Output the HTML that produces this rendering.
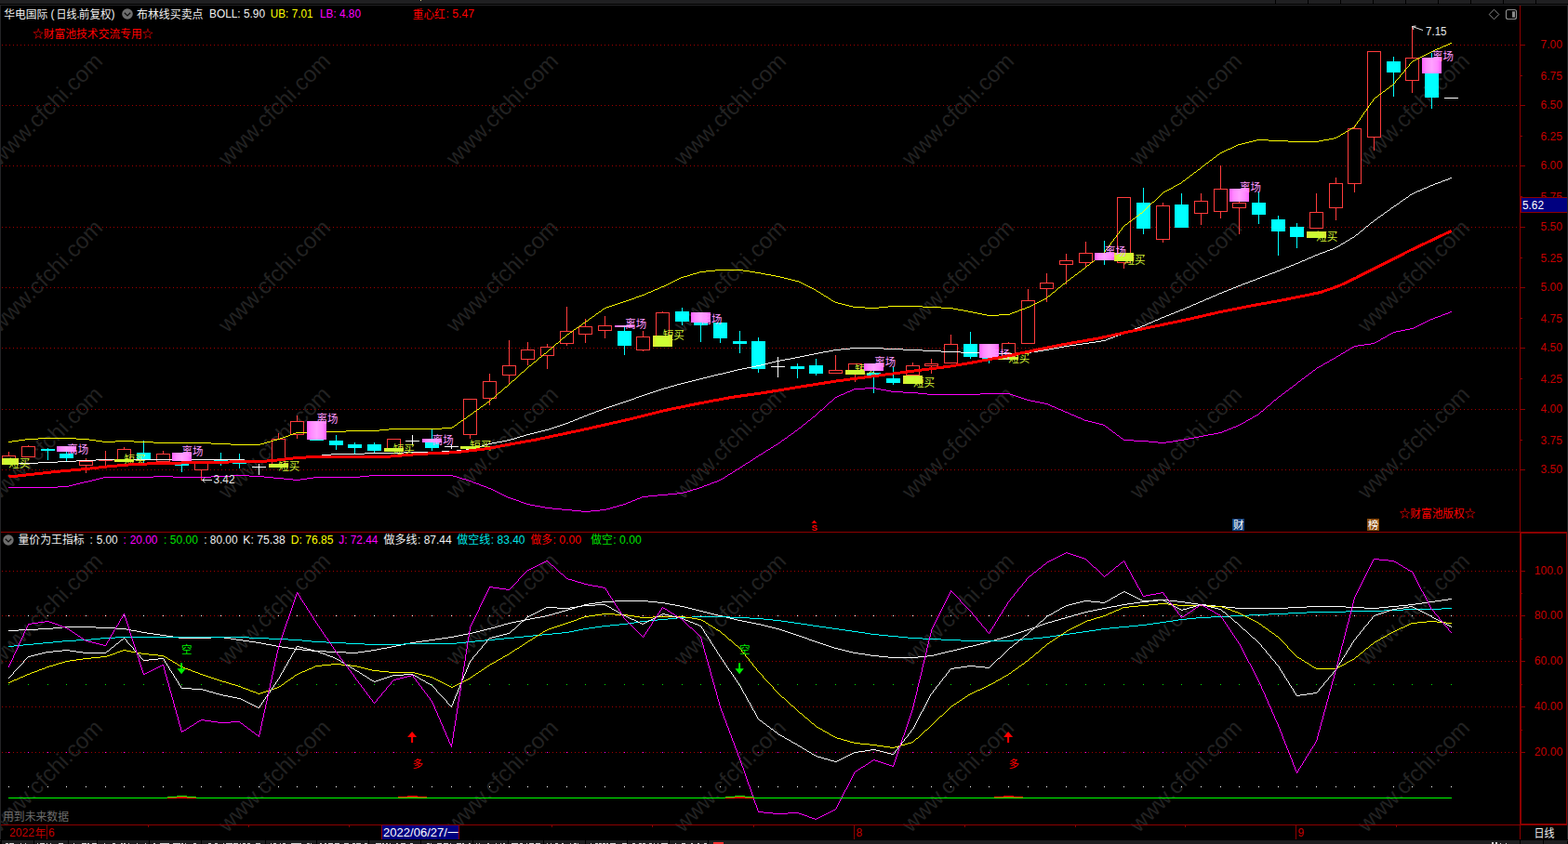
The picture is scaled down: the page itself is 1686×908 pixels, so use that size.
<!DOCTYPE html>
<html lang="zh"><head><meta charset="utf-8"><title>华电国际 日线 BOLL</title>
<style>html,body{margin:0;padding:0;background:#000;overflow:hidden}body{width:1686px;height:908px;font-family:"Liberation Sans","Noto Sans CJK SC",sans-serif}svg text{font-family:"Liberation Sans","Noto Sans CJK SC",sans-serif}</style>
</head><body>
<svg width="1686" height="908" viewBox="0 0 1686 908" font-family="Liberation Sans, Noto Sans CJK SC, sans-serif" font-size="12" style="display:block">
<defs><linearGradient id="gp" x1="0" x2="1" y1="0" y2="0"><stop offset="0" stop-color="#ff60ff"/><stop offset="0.22" stop-color="#ff8aff"/><stop offset="0.5" stop-color="#ffa2ff"/><stop offset="0.78" stop-color="#ff8aff"/><stop offset="1" stop-color="#ff60ff"/></linearGradient><linearGradient id="gy" x1="0" x2="1" y1="0" y2="0"><stop offset="0" stop-color="#e2e432"/><stop offset="0.22" stop-color="#ccff33"/><stop offset="0.78" stop-color="#ccff33"/><stop offset="1" stop-color="#e2e432"/></linearGradient></defs>
<rect x="0" y="0" width="1686" height="908" fill="#000"/>
<g fill="#222222" font-size="24">
<text transform="translate(-245.5 0.1) rotate(-45)">www.cfchi.com</text>
<text transform="translate(-0.5 0.1) rotate(-45)">www.cfchi.com</text>
<text transform="translate(244.5 0.1) rotate(-45)">www.cfchi.com</text>
<text transform="translate(489.5 0.1) rotate(-45)">www.cfchi.com</text>
<text transform="translate(734.5 0.1) rotate(-45)">www.cfchi.com</text>
<text transform="translate(979.5 0.1) rotate(-45)">www.cfchi.com</text>
<text transform="translate(1224.5 0.1) rotate(-45)">www.cfchi.com</text>
<text transform="translate(1469.5 0.1) rotate(-45)">www.cfchi.com</text>
<text transform="translate(-245.5 179.4) rotate(-45)">www.cfchi.com</text>
<text transform="translate(-0.5 179.4) rotate(-45)">www.cfchi.com</text>
<text transform="translate(244.5 179.4) rotate(-45)">www.cfchi.com</text>
<text transform="translate(489.5 179.4) rotate(-45)">www.cfchi.com</text>
<text transform="translate(734.5 179.4) rotate(-45)">www.cfchi.com</text>
<text transform="translate(979.5 179.4) rotate(-45)">www.cfchi.com</text>
<text transform="translate(1224.5 179.4) rotate(-45)">www.cfchi.com</text>
<text transform="translate(1469.5 179.4) rotate(-45)">www.cfchi.com</text>
<text transform="translate(-245.5 358.7) rotate(-45)">www.cfchi.com</text>
<text transform="translate(-0.5 358.7) rotate(-45)">www.cfchi.com</text>
<text transform="translate(244.5 358.7) rotate(-45)">www.cfchi.com</text>
<text transform="translate(489.5 358.7) rotate(-45)">www.cfchi.com</text>
<text transform="translate(734.5 358.7) rotate(-45)">www.cfchi.com</text>
<text transform="translate(979.5 358.7) rotate(-45)">www.cfchi.com</text>
<text transform="translate(1224.5 358.7) rotate(-45)">www.cfchi.com</text>
<text transform="translate(1469.5 358.7) rotate(-45)">www.cfchi.com</text>
<text transform="translate(-245.5 538) rotate(-45)">www.cfchi.com</text>
<text transform="translate(-0.5 538) rotate(-45)">www.cfchi.com</text>
<text transform="translate(244.5 538) rotate(-45)">www.cfchi.com</text>
<text transform="translate(489.5 538) rotate(-45)">www.cfchi.com</text>
<text transform="translate(734.5 538) rotate(-45)">www.cfchi.com</text>
<text transform="translate(979.5 538) rotate(-45)">www.cfchi.com</text>
<text transform="translate(1224.5 538) rotate(-45)">www.cfchi.com</text>
<text transform="translate(1469.5 538) rotate(-45)">www.cfchi.com</text>
<text transform="translate(-245.5 717.3) rotate(-45)">www.cfchi.com</text>
<text transform="translate(-0.5 717.3) rotate(-45)">www.cfchi.com</text>
<text transform="translate(244.5 717.3) rotate(-45)">www.cfchi.com</text>
<text transform="translate(489.5 717.3) rotate(-45)">www.cfchi.com</text>
<text transform="translate(734.5 717.3) rotate(-45)">www.cfchi.com</text>
<text transform="translate(979.5 717.3) rotate(-45)">www.cfchi.com</text>
<text transform="translate(1224.5 717.3) rotate(-45)">www.cfchi.com</text>
<text transform="translate(1469.5 717.3) rotate(-45)">www.cfchi.com</text>
<text transform="translate(-245.5 896.6) rotate(-45)">www.cfchi.com</text>
<text transform="translate(-0.5 896.6) rotate(-45)">www.cfchi.com</text>
<text transform="translate(244.5 896.6) rotate(-45)">www.cfchi.com</text>
<text transform="translate(489.5 896.6) rotate(-45)">www.cfchi.com</text>
<text transform="translate(734.5 896.6) rotate(-45)">www.cfchi.com</text>
<text transform="translate(979.5 896.6) rotate(-45)">www.cfchi.com</text>
<text transform="translate(1224.5 896.6) rotate(-45)">www.cfchi.com</text>
<text transform="translate(1469.5 896.6) rotate(-45)">www.cfchi.com</text>
</g>
<rect x="1635" y="0" width="51" height="908" fill="#000"/>
<g shape-rendering="crispEdges">
<rect x="0" y="0" width="1686" height="4" fill="#1f1f21"/>
<rect x="1371" y="0" width="1" height="4" fill="#000"/>
<rect x="1406" y="0" width="1" height="4" fill="#000"/>
<rect x="1441" y="0" width="1" height="4" fill="#000"/>
<rect x="1476" y="0" width="1" height="4" fill="#000"/>
<rect x="1511" y="0" width="1" height="4" fill="#000"/>
<rect x="1546" y="0" width="1" height="4" fill="#000"/>
<rect x="1581" y="0" width="1" height="4" fill="#000"/>
<rect x="1616" y="0" width="1" height="4" fill="#000"/>
<rect x="1651" y="0" width="1" height="4" fill="#000"/>
<rect x="0" y="4" width="1686" height="1" fill="#000"/>
<rect x="0" y="5" width="1686" height="1" fill="#232325"/>
<rect x="0" y="5" width="1" height="900" fill="#232325"/>
<rect x="1685" y="5" width="1" height="900" fill="#232325"/>
<rect x="452" y="0" width="1" height="1" fill="#d0c080"/>
<rect x="0" y="903" width="1686" height="1" fill="#000"/>
<rect x="2" y="904" width="1683" height="4" fill="#1e1e20"/>
<rect x="36" y="904" width="1" height="4" fill="#000"/>
<rect x="73" y="904" width="1" height="4" fill="#000"/>
<rect x="104" y="904" width="1" height="4" fill="#000"/>
<rect x="160" y="904" width="1" height="4" fill="#000"/>
<rect x="216" y="904" width="1" height="4" fill="#000"/>
<rect x="285" y="904" width="1" height="4" fill="#000"/>
<rect x="340" y="904" width="1" height="4" fill="#000"/>
<rect x="396" y="904" width="1" height="4" fill="#000"/>
<rect x="452" y="904" width="1" height="4" fill="#000"/>
<rect x="508" y="904" width="1" height="4" fill="#000"/>
<rect x="546" y="904" width="1" height="4" fill="#000"/>
<rect x="584" y="904" width="1" height="4" fill="#000"/>
<rect x="629" y="904" width="1" height="4" fill="#000"/>
<rect x="674" y="904" width="1" height="4" fill="#000"/>
<rect x="719" y="904" width="1" height="4" fill="#000"/>
<rect x="761" y="904" width="1" height="4" fill="#000"/>
<rect x="1634" y="904" width="1" height="4" fill="#000"/>
<rect x="1659" y="904" width="1" height="4" fill="#000"/>
<rect x="1634" y="904" width="1" height="4" fill="#000"/>
<rect x="1659" y="904" width="1" height="4" fill="#000"/>
<rect x="6" y="906.6" width="3" height="1.4" fill="#cfcfcf"/>
<rect x="10" y="906.6" width="5" height="1.4" fill="#cfcfcf"/>
<rect x="13" y="906.6" width="1" height="1.4" fill="#cfcfcf"/>
<rect x="22" y="906.6" width="1" height="1.4" fill="#cfcfcf"/>
<rect x="27" y="906.6" width="1" height="1.4" fill="#cfcfcf"/>
<rect x="40" y="906.6" width="1" height="1.4" fill="#cfcfcf"/>
<rect x="43" y="906.6" width="5" height="1.4" fill="#cfcfcf"/>
<rect x="50" y="906.6" width="1" height="1.4" fill="#cfcfcf"/>
<rect x="54" y="906.6" width="1" height="1.4" fill="#cfcfcf"/>
<rect x="63" y="906.6" width="5" height="1.4" fill="#cfcfcf"/>
<rect x="66" y="906.6" width="1" height="1.4" fill="#cfcfcf"/>
<rect x="79" y="906.6" width="1" height="1.4" fill="#cfcfcf"/>
<rect x="88" y="906.6" width="5" height="1.4" fill="#cfcfcf"/>
<rect x="91" y="906.6" width="2" height="1.4" fill="#cfcfcf"/>
<rect x="94" y="906.6" width="2" height="1.4" fill="#cfcfcf"/>
<rect x="99" y="906.6" width="5" height="1.4" fill="#cfcfcf"/>
<rect x="112" y="906.6" width="1" height="1.4" fill="#cfcfcf"/>
<rect x="121" y="906.6" width="3" height="1.4" fill="#cfcfcf"/>
<rect x="130" y="906.6" width="2" height="1.4" fill="#cfcfcf"/>
<rect x="133" y="906.6" width="2" height="1.4" fill="#cfcfcf"/>
<rect x="138" y="906.6" width="1" height="1.4" fill="#cfcfcf"/>
<rect x="147" y="906.6" width="1" height="1.4" fill="#cfcfcf"/>
<rect x="156" y="906.6" width="1" height="1.4" fill="#cfcfcf"/>
<rect x="165" y="906.6" width="2" height="1.4" fill="#cfcfcf"/>
<rect x="172" y="906.6" width="5" height="1.4" fill="#cfcfcf"/>
<rect x="177" y="906.6" width="5" height="1.4" fill="#cfcfcf"/>
<rect x="186" y="906.6" width="5" height="1.4" fill="#cfcfcf"/>
<rect x="191" y="906.6" width="3" height="1.4" fill="#cfcfcf"/>
<rect x="195" y="906.6" width="2" height="1.4" fill="#cfcfcf"/>
<rect x="199" y="906.6" width="1" height="1.4" fill="#cfcfcf"/>
<rect x="208" y="906.6" width="3" height="1.4" fill="#cfcfcf"/>
<rect x="224" y="906.6" width="3" height="1.4" fill="#cfcfcf"/>
<rect x="231" y="906.6" width="3" height="1.4" fill="#cfcfcf"/>
<rect x="240" y="906.6" width="1" height="1.4" fill="#cfcfcf"/>
<rect x="243" y="906.6" width="5" height="1.4" fill="#cfcfcf"/>
<rect x="247" y="906.6" width="3" height="1.4" fill="#cfcfcf"/>
<rect x="251" y="906.6" width="5" height="1.4" fill="#cfcfcf"/>
<rect x="258" y="906.6" width="1" height="1.4" fill="#cfcfcf"/>
<rect x="261" y="906.6" width="3" height="1.4" fill="#cfcfcf"/>
<rect x="266" y="906.6" width="3" height="1.4" fill="#cfcfcf"/>
<rect x="275" y="906.6" width="5" height="1.4" fill="#cfcfcf"/>
<rect x="291" y="906.6" width="1" height="1.4" fill="#cfcfcf"/>
<rect x="294" y="906.6" width="3" height="1.4" fill="#cfcfcf"/>
<rect x="301" y="906.6" width="1" height="1.4" fill="#cfcfcf"/>
<rect x="304" y="906.6" width="3" height="1.4" fill="#cfcfcf"/>
<rect x="313" y="906.6" width="5" height="1.4" fill="#cfcfcf"/>
<rect x="318" y="906.6" width="5" height="1.4" fill="#cfcfcf"/>
<rect x="323" y="906.6" width="1" height="1.4" fill="#cfcfcf"/>
<rect x="330" y="906.6" width="3" height="1.4" fill="#cfcfcf"/>
<rect x="334" y="906.6" width="1" height="1.4" fill="#cfcfcf"/>
<rect x="344" y="906.6" width="2" height="1.4" fill="#cfcfcf"/>
<rect x="349" y="906.6" width="2" height="1.4" fill="#cfcfcf"/>
<rect x="353" y="906.6" width="5" height="1.4" fill="#cfcfcf"/>
<rect x="360" y="906.6" width="5" height="1.4" fill="#cfcfcf"/>
<rect x="363" y="906.6" width="2" height="1.4" fill="#cfcfcf"/>
<rect x="370" y="906.6" width="5" height="1.4" fill="#cfcfcf"/>
<rect x="379" y="906.6" width="3" height="1.4" fill="#cfcfcf"/>
<rect x="383" y="906.6" width="5" height="1.4" fill="#cfcfcf"/>
<rect x="392" y="906.6" width="3" height="1.4" fill="#cfcfcf"/>
<rect x="404" y="906.6" width="5" height="1.4" fill="#cfcfcf"/>
<rect x="408" y="906.6" width="2" height="1.4" fill="#cfcfcf"/>
<rect x="411" y="906.6" width="2" height="1.4" fill="#cfcfcf"/>
<rect x="415" y="906.6" width="2" height="1.4" fill="#cfcfcf"/>
<rect x="419" y="906.6" width="1" height="1.4" fill="#cfcfcf"/>
<rect x="426" y="906.6" width="2" height="1.4" fill="#cfcfcf"/>
<rect x="431" y="906.6" width="3" height="1.4" fill="#cfcfcf"/>
<rect x="434" y="906.6" width="2" height="1.4" fill="#cfcfcf"/>
<rect x="441" y="906.6" width="3" height="1.4" fill="#cfcfcf"/>
<rect x="459" y="906.6" width="3" height="1.4" fill="#cfcfcf"/>
<rect x="463" y="906.6" width="1" height="1.4" fill="#cfcfcf"/>
<rect x="470" y="906.6" width="5" height="1.4" fill="#cfcfcf"/>
<rect x="477" y="906.6" width="5" height="1.4" fill="#cfcfcf"/>
<rect x="484" y="906.6" width="1" height="1.4" fill="#cfcfcf"/>
<rect x="491" y="906.6" width="5" height="1.4" fill="#cfcfcf"/>
<rect x="494" y="906.6" width="2" height="1.4" fill="#cfcfcf"/>
<rect x="497" y="906.6" width="2" height="1.4" fill="#cfcfcf"/>
<rect x="504" y="906.6" width="2" height="1.4" fill="#cfcfcf"/>
<rect x="512" y="906.6" width="1" height="1.4" fill="#cfcfcf"/>
<rect x="515" y="906.6" width="1" height="1.4" fill="#cfcfcf"/>
<rect x="524" y="906.6" width="2" height="1.4" fill="#cfcfcf"/>
<rect x="533" y="906.6" width="1" height="1.4" fill="#cfcfcf"/>
<rect x="538" y="906.6" width="1" height="1.4" fill="#cfcfcf"/>
<rect x="541" y="906.6" width="2" height="1.4" fill="#cfcfcf"/>
<rect x="550" y="906.6" width="5" height="1.4" fill="#cfcfcf"/>
<rect x="554" y="906.6" width="3" height="1.4" fill="#cfcfcf"/>
<rect x="559" y="906.6" width="3" height="1.4" fill="#cfcfcf"/>
<rect x="566" y="906.6" width="1" height="1.4" fill="#cfcfcf"/>
<rect x="569" y="906.6" width="5" height="1.4" fill="#cfcfcf"/>
<rect x="576" y="906.6" width="5" height="1.4" fill="#cfcfcf"/>
<rect x="588" y="906.6" width="1" height="1.4" fill="#cfcfcf"/>
<rect x="592" y="906.6" width="1" height="1.4" fill="#cfcfcf"/>
<rect x="597" y="906.6" width="3" height="1.4" fill="#cfcfcf"/>
<rect x="604" y="906.6" width="2" height="1.4" fill="#cfcfcf"/>
<rect x="613" y="906.6" width="1" height="1.4" fill="#cfcfcf"/>
<rect x="617" y="906.6" width="3" height="1.4" fill="#cfcfcf"/>
<rect x="621" y="906.6" width="1" height="1.4" fill="#cfcfcf"/>
<rect x="635" y="906.6" width="1" height="1.4" fill="#cfcfcf"/>
<rect x="640" y="906.6" width="3" height="1.4" fill="#cfcfcf"/>
<rect x="644" y="906.6" width="3" height="1.4" fill="#cfcfcf"/>
<rect x="648" y="906.6" width="3" height="1.4" fill="#cfcfcf"/>
<rect x="652" y="906.6" width="2" height="1.4" fill="#cfcfcf"/>
<rect x="656" y="906.6" width="5" height="1.4" fill="#cfcfcf"/>
<rect x="660" y="906.6" width="2" height="1.4" fill="#cfcfcf"/>
<rect x="669" y="906.6" width="5" height="1.4" fill="#cfcfcf"/>
<rect x="680" y="906.6" width="3" height="1.4" fill="#cfcfcf"/>
<rect x="687" y="906.6" width="3" height="1.4" fill="#cfcfcf"/>
<rect x="691" y="906.6" width="3" height="1.4" fill="#cfcfcf"/>
<rect x="698" y="906.6" width="3" height="1.4" fill="#cfcfcf"/>
<rect x="703" y="906.6" width="1" height="1.4" fill="#cfcfcf"/>
<rect x="707" y="906.6" width="1" height="1.4" fill="#cfcfcf"/>
<rect x="711" y="906.6" width="5" height="1.4" fill="#cfcfcf"/>
<rect x="715" y="906.6" width="3" height="1.4" fill="#cfcfcf"/>
<rect x="726" y="906.6" width="1" height="1.4" fill="#cfcfcf"/>
<rect x="733" y="906.6" width="3" height="1.4" fill="#cfcfcf"/>
<rect x="736" y="906.6" width="1" height="1.4" fill="#cfcfcf"/>
<rect x="743" y="906.6" width="2" height="1.4" fill="#cfcfcf"/>
<rect x="750" y="906.6" width="2" height="1.4" fill="#cfcfcf"/>
<rect x="757" y="906.6" width="3" height="1.4" fill="#cfcfcf"/>
<rect x="767" y="906" width="11" height="2" fill="#ff3030"/>
<rect x="1604" y="906.4" width="2" height="1.6" fill="#cfcfcf"/>
<rect x="1608" y="906.4" width="2" height="1.6" fill="#cfcfcf"/>
<rect x="1613" y="906.8" width="1" height="1.2" fill="#cfcfcf"/>
<rect x="1619" y="906.8" width="1" height="1.2" fill="#cfcfcf"/>
<rect x="1634" y="6" width="1" height="567" fill="#8c0000"/>
<rect x="1" y="572" width="1684" height="1" fill="#8c0000"/>
<rect x="1634" y="572" width="2" height="316" fill="#8c0000"/>
<rect x="1634" y="572" width="51" height="2" fill="#8c0000"/>
<rect x="1684" y="572" width="1" height="316" fill="#8c0000"/>
<rect x="1634" y="886" width="51" height="2" fill="#8c0000"/>
<rect x="1" y="887" width="1634" height="1" fill="#8c0000"/>
<rect x="1634" y="888" width="1" height="15" fill="#8c0000"/>
<path d="M2 48.5H1632" stroke="#a00000" stroke-width="1" stroke-dasharray="1 3" fill="none"/>
<rect x="1635" y="48" width="5" height="1" fill="#8c0000"/>
<rect x="1635" y="81" width="2" height="1" fill="#8c0000"/>
<path d="M2 113.5H1632" stroke="#a00000" stroke-width="1" stroke-dasharray="1 3" fill="none"/>
<rect x="1635" y="113" width="5" height="1" fill="#8c0000"/>
<rect x="1635" y="146" width="2" height="1" fill="#8c0000"/>
<path d="M2 178.5H1632" stroke="#a00000" stroke-width="1" stroke-dasharray="1 3" fill="none"/>
<rect x="1635" y="178" width="5" height="1" fill="#8c0000"/>
<rect x="1635" y="211" width="2" height="1" fill="#8c0000"/>
<path d="M2 244.5H1632" stroke="#a00000" stroke-width="1" stroke-dasharray="1 3" fill="none"/>
<rect x="1635" y="244" width="5" height="1" fill="#8c0000"/>
<rect x="1635" y="277" width="2" height="1" fill="#8c0000"/>
<path d="M2 309.5H1632" stroke="#a00000" stroke-width="1" stroke-dasharray="1 3" fill="none"/>
<rect x="1635" y="309" width="5" height="1" fill="#8c0000"/>
<rect x="1635" y="342" width="2" height="1" fill="#8c0000"/>
<path d="M2 374.5H1632" stroke="#a00000" stroke-width="1" stroke-dasharray="1 3" fill="none"/>
<rect x="1635" y="374" width="5" height="1" fill="#8c0000"/>
<rect x="1635" y="407" width="2" height="1" fill="#8c0000"/>
<path d="M2 440.5H1632" stroke="#a00000" stroke-width="1" stroke-dasharray="1 3" fill="none"/>
<rect x="1635" y="440" width="5" height="1" fill="#8c0000"/>
<rect x="1635" y="473" width="2" height="1" fill="#8c0000"/>
<path d="M2 505.5H1632" stroke="#a00000" stroke-width="1" stroke-dasharray="1 3" fill="none"/>
<rect x="1635" y="505" width="5" height="1" fill="#8c0000"/>
<path d="M2 614.5H1632" stroke="#a00000" stroke-width="1" stroke-dasharray="1 3" fill="none"/>
<rect x="1636" y="614" width="4" height="1" fill="#8c0000"/>
<path d="M2 662.5H1632" stroke="#a00000" stroke-width="1" stroke-dasharray="1 3" fill="none"/>
<rect x="1636" y="662" width="4" height="1" fill="#8c0000"/>
<path d="M2 711.5H1632" stroke="#a00000" stroke-width="1" stroke-dasharray="1 3" fill="none"/>
<rect x="1636" y="711" width="4" height="1" fill="#8c0000"/>
<path d="M2 760.5H1632" stroke="#a00000" stroke-width="1" stroke-dasharray="1 3" fill="none"/>
<rect x="1636" y="760" width="4" height="1" fill="#8c0000"/>
<path d="M2 809.5H1632" stroke="#a00000" stroke-width="1" stroke-dasharray="1 3" fill="none"/>
<rect x="1636" y="809" width="4" height="1" fill="#8c0000"/>
<rect x="1636" y="638" width="1" height="1" fill="#8c0000"/>
<rect x="1636" y="687" width="1" height="1" fill="#8c0000"/>
<rect x="1636" y="736" width="1" height="1" fill="#8c0000"/>
<rect x="1636" y="785" width="1" height="1" fill="#8c0000"/>
<rect x="9" y="662" width="1" height="1" fill="#ffffff"/>
<rect x="30" y="662" width="1" height="1" fill="#ffffff"/>
<rect x="51" y="662" width="1" height="1" fill="#ffffff"/>
<rect x="71" y="662" width="1" height="1" fill="#ffffff"/>
<rect x="92" y="662" width="1" height="1" fill="#ffffff"/>
<rect x="113" y="662" width="1" height="1" fill="#ffffff"/>
<rect x="133" y="662" width="1" height="1" fill="#ffffff"/>
<rect x="154" y="662" width="1" height="1" fill="#ffffff"/>
<rect x="175" y="662" width="1" height="1" fill="#ffffff"/>
<rect x="195" y="662" width="1" height="1" fill="#ffffff"/>
<rect x="216" y="662" width="1" height="1" fill="#ffffff"/>
<rect x="237" y="662" width="1" height="1" fill="#ffffff"/>
<rect x="257" y="662" width="1" height="1" fill="#ffffff"/>
<rect x="278" y="662" width="1" height="1" fill="#ffffff"/>
<rect x="299" y="662" width="1" height="1" fill="#ffffff"/>
<rect x="319" y="662" width="1" height="1" fill="#ffffff"/>
<rect x="340" y="662" width="1" height="1" fill="#ffffff"/>
<rect x="361" y="662" width="1" height="1" fill="#ffffff"/>
<rect x="381" y="662" width="1" height="1" fill="#ffffff"/>
<rect x="402" y="662" width="1" height="1" fill="#ffffff"/>
<rect x="423" y="662" width="1" height="1" fill="#ffffff"/>
<rect x="443" y="662" width="1" height="1" fill="#ffffff"/>
<rect x="464" y="662" width="1" height="1" fill="#ffffff"/>
<rect x="485" y="662" width="1" height="1" fill="#ffffff"/>
<rect x="505" y="662" width="1" height="1" fill="#ffffff"/>
<rect x="526" y="662" width="1" height="1" fill="#ffffff"/>
<rect x="547" y="662" width="1" height="1" fill="#ffffff"/>
<rect x="567" y="662" width="1" height="1" fill="#ffffff"/>
<rect x="588" y="662" width="1" height="1" fill="#ffffff"/>
<rect x="609" y="662" width="1" height="1" fill="#ffffff"/>
<rect x="629" y="662" width="1" height="1" fill="#ffffff"/>
<rect x="650" y="662" width="1" height="1" fill="#ffffff"/>
<rect x="671" y="662" width="1" height="1" fill="#ffffff"/>
<rect x="691" y="662" width="1" height="1" fill="#ffffff"/>
<rect x="712" y="662" width="1" height="1" fill="#ffffff"/>
<rect x="733" y="662" width="1" height="1" fill="#ffffff"/>
<rect x="753" y="662" width="1" height="1" fill="#ffffff"/>
<rect x="774" y="662" width="1" height="1" fill="#ffffff"/>
<rect x="795" y="662" width="1" height="1" fill="#ffffff"/>
<rect x="815" y="662" width="1" height="1" fill="#ffffff"/>
<rect x="836" y="662" width="1" height="1" fill="#ffffff"/>
<rect x="857" y="662" width="1" height="1" fill="#ffffff"/>
<rect x="877" y="662" width="1" height="1" fill="#ffffff"/>
<rect x="898" y="662" width="1" height="1" fill="#ffffff"/>
<rect x="919" y="662" width="1" height="1" fill="#ffffff"/>
<rect x="939" y="662" width="1" height="1" fill="#ffffff"/>
<rect x="960" y="662" width="1" height="1" fill="#ffffff"/>
<rect x="981" y="662" width="1" height="1" fill="#ffffff"/>
<rect x="1001" y="662" width="1" height="1" fill="#ffffff"/>
<rect x="1022" y="662" width="1" height="1" fill="#ffffff"/>
<rect x="1043" y="662" width="1" height="1" fill="#ffffff"/>
<rect x="1063" y="662" width="1" height="1" fill="#ffffff"/>
<rect x="1084" y="662" width="1" height="1" fill="#ffffff"/>
<rect x="1105" y="662" width="1" height="1" fill="#ffffff"/>
<rect x="1125" y="662" width="1" height="1" fill="#ffffff"/>
<rect x="1146" y="662" width="1" height="1" fill="#ffffff"/>
<rect x="1167" y="662" width="1" height="1" fill="#ffffff"/>
<rect x="1187" y="662" width="1" height="1" fill="#ffffff"/>
<rect x="1208" y="662" width="1" height="1" fill="#ffffff"/>
<rect x="1229" y="662" width="1" height="1" fill="#ffffff"/>
<rect x="1250" y="662" width="1" height="1" fill="#ffffff"/>
<rect x="1270" y="662" width="1" height="1" fill="#ffffff"/>
<rect x="1291" y="662" width="1" height="1" fill="#ffffff"/>
<rect x="1312" y="662" width="1" height="1" fill="#ffffff"/>
<rect x="1332" y="662" width="1" height="1" fill="#ffffff"/>
<rect x="1353" y="662" width="1" height="1" fill="#ffffff"/>
<rect x="1374" y="662" width="1" height="1" fill="#ffffff"/>
<rect x="1394" y="662" width="1" height="1" fill="#ffffff"/>
<rect x="1415" y="662" width="1" height="1" fill="#ffffff"/>
<rect x="1436" y="662" width="1" height="1" fill="#ffffff"/>
<rect x="1456" y="662" width="1" height="1" fill="#ffffff"/>
<rect x="1477" y="662" width="1" height="1" fill="#ffffff"/>
<rect x="1498" y="662" width="1" height="1" fill="#ffffff"/>
<rect x="1518" y="662" width="1" height="1" fill="#ffffff"/>
<rect x="1539" y="662" width="1" height="1" fill="#ffffff"/>
<rect x="1560" y="662" width="1" height="1" fill="#ffffff"/>
<rect x="9" y="736" width="1" height="1" fill="#00e000"/>
<rect x="30" y="736" width="1" height="1" fill="#00e000"/>
<rect x="51" y="736" width="1" height="1" fill="#00e000"/>
<rect x="71" y="736" width="1" height="1" fill="#00e000"/>
<rect x="92" y="736" width="1" height="1" fill="#00e000"/>
<rect x="113" y="736" width="1" height="1" fill="#00e000"/>
<rect x="133" y="736" width="1" height="1" fill="#00e000"/>
<rect x="154" y="736" width="1" height="1" fill="#00e000"/>
<rect x="175" y="736" width="1" height="1" fill="#00e000"/>
<rect x="195" y="736" width="1" height="1" fill="#00e000"/>
<rect x="216" y="736" width="1" height="1" fill="#00e000"/>
<rect x="237" y="736" width="1" height="1" fill="#00e000"/>
<rect x="257" y="736" width="1" height="1" fill="#00e000"/>
<rect x="278" y="736" width="1" height="1" fill="#00e000"/>
<rect x="299" y="736" width="1" height="1" fill="#00e000"/>
<rect x="319" y="736" width="1" height="1" fill="#00e000"/>
<rect x="340" y="736" width="1" height="1" fill="#00e000"/>
<rect x="361" y="736" width="1" height="1" fill="#00e000"/>
<rect x="381" y="736" width="1" height="1" fill="#00e000"/>
<rect x="402" y="736" width="1" height="1" fill="#00e000"/>
<rect x="423" y="736" width="1" height="1" fill="#00e000"/>
<rect x="443" y="736" width="1" height="1" fill="#00e000"/>
<rect x="464" y="736" width="1" height="1" fill="#00e000"/>
<rect x="485" y="736" width="1" height="1" fill="#00e000"/>
<rect x="505" y="736" width="1" height="1" fill="#00e000"/>
<rect x="526" y="736" width="1" height="1" fill="#00e000"/>
<rect x="547" y="736" width="1" height="1" fill="#00e000"/>
<rect x="567" y="736" width="1" height="1" fill="#00e000"/>
<rect x="588" y="736" width="1" height="1" fill="#00e000"/>
<rect x="609" y="736" width="1" height="1" fill="#00e000"/>
<rect x="629" y="736" width="1" height="1" fill="#00e000"/>
<rect x="650" y="736" width="1" height="1" fill="#00e000"/>
<rect x="671" y="736" width="1" height="1" fill="#00e000"/>
<rect x="691" y="736" width="1" height="1" fill="#00e000"/>
<rect x="712" y="736" width="1" height="1" fill="#00e000"/>
<rect x="733" y="736" width="1" height="1" fill="#00e000"/>
<rect x="753" y="736" width="1" height="1" fill="#00e000"/>
<rect x="774" y="736" width="1" height="1" fill="#00e000"/>
<rect x="795" y="736" width="1" height="1" fill="#00e000"/>
<rect x="815" y="736" width="1" height="1" fill="#00e000"/>
<rect x="836" y="736" width="1" height="1" fill="#00e000"/>
<rect x="857" y="736" width="1" height="1" fill="#00e000"/>
<rect x="877" y="736" width="1" height="1" fill="#00e000"/>
<rect x="898" y="736" width="1" height="1" fill="#00e000"/>
<rect x="919" y="736" width="1" height="1" fill="#00e000"/>
<rect x="939" y="736" width="1" height="1" fill="#00e000"/>
<rect x="960" y="736" width="1" height="1" fill="#00e000"/>
<rect x="981" y="736" width="1" height="1" fill="#00e000"/>
<rect x="1001" y="736" width="1" height="1" fill="#00e000"/>
<rect x="1022" y="736" width="1" height="1" fill="#00e000"/>
<rect x="1043" y="736" width="1" height="1" fill="#00e000"/>
<rect x="1063" y="736" width="1" height="1" fill="#00e000"/>
<rect x="1084" y="736" width="1" height="1" fill="#00e000"/>
<rect x="1105" y="736" width="1" height="1" fill="#00e000"/>
<rect x="1125" y="736" width="1" height="1" fill="#00e000"/>
<rect x="1146" y="736" width="1" height="1" fill="#00e000"/>
<rect x="1167" y="736" width="1" height="1" fill="#00e000"/>
<rect x="1187" y="736" width="1" height="1" fill="#00e000"/>
<rect x="1208" y="736" width="1" height="1" fill="#00e000"/>
<rect x="1229" y="736" width="1" height="1" fill="#00e000"/>
<rect x="1250" y="736" width="1" height="1" fill="#00e000"/>
<rect x="1270" y="736" width="1" height="1" fill="#00e000"/>
<rect x="1291" y="736" width="1" height="1" fill="#00e000"/>
<rect x="1312" y="736" width="1" height="1" fill="#00e000"/>
<rect x="1332" y="736" width="1" height="1" fill="#00e000"/>
<rect x="1353" y="736" width="1" height="1" fill="#00e000"/>
<rect x="1374" y="736" width="1" height="1" fill="#00e000"/>
<rect x="1394" y="736" width="1" height="1" fill="#00e000"/>
<rect x="1415" y="736" width="1" height="1" fill="#00e000"/>
<rect x="1436" y="736" width="1" height="1" fill="#00e000"/>
<rect x="1456" y="736" width="1" height="1" fill="#00e000"/>
<rect x="1477" y="736" width="1" height="1" fill="#00e000"/>
<rect x="1498" y="736" width="1" height="1" fill="#00e000"/>
<rect x="1518" y="736" width="1" height="1" fill="#00e000"/>
<rect x="1539" y="736" width="1" height="1" fill="#00e000"/>
<rect x="1560" y="736" width="1" height="1" fill="#00e000"/>
<rect x="9" y="809" width="1" height="1" fill="#ff00ff"/>
<rect x="30" y="809" width="1" height="1" fill="#ff00ff"/>
<rect x="51" y="809" width="1" height="1" fill="#ff00ff"/>
<rect x="71" y="809" width="1" height="1" fill="#ff00ff"/>
<rect x="92" y="809" width="1" height="1" fill="#ff00ff"/>
<rect x="113" y="809" width="1" height="1" fill="#ff00ff"/>
<rect x="133" y="809" width="1" height="1" fill="#ff00ff"/>
<rect x="154" y="809" width="1" height="1" fill="#ff00ff"/>
<rect x="175" y="809" width="1" height="1" fill="#ff00ff"/>
<rect x="195" y="809" width="1" height="1" fill="#ff00ff"/>
<rect x="216" y="809" width="1" height="1" fill="#ff00ff"/>
<rect x="237" y="809" width="1" height="1" fill="#ff00ff"/>
<rect x="257" y="809" width="1" height="1" fill="#ff00ff"/>
<rect x="278" y="809" width="1" height="1" fill="#ff00ff"/>
<rect x="299" y="809" width="1" height="1" fill="#ff00ff"/>
<rect x="319" y="809" width="1" height="1" fill="#ff00ff"/>
<rect x="340" y="809" width="1" height="1" fill="#ff00ff"/>
<rect x="361" y="809" width="1" height="1" fill="#ff00ff"/>
<rect x="381" y="809" width="1" height="1" fill="#ff00ff"/>
<rect x="402" y="809" width="1" height="1" fill="#ff00ff"/>
<rect x="423" y="809" width="1" height="1" fill="#ff00ff"/>
<rect x="443" y="809" width="1" height="1" fill="#ff00ff"/>
<rect x="464" y="809" width="1" height="1" fill="#ff00ff"/>
<rect x="485" y="809" width="1" height="1" fill="#ff00ff"/>
<rect x="505" y="809" width="1" height="1" fill="#ff00ff"/>
<rect x="526" y="809" width="1" height="1" fill="#ff00ff"/>
<rect x="547" y="809" width="1" height="1" fill="#ff00ff"/>
<rect x="567" y="809" width="1" height="1" fill="#ff00ff"/>
<rect x="588" y="809" width="1" height="1" fill="#ff00ff"/>
<rect x="609" y="809" width="1" height="1" fill="#ff00ff"/>
<rect x="629" y="809" width="1" height="1" fill="#ff00ff"/>
<rect x="650" y="809" width="1" height="1" fill="#ff00ff"/>
<rect x="671" y="809" width="1" height="1" fill="#ff00ff"/>
<rect x="691" y="809" width="1" height="1" fill="#ff00ff"/>
<rect x="712" y="809" width="1" height="1" fill="#ff00ff"/>
<rect x="733" y="809" width="1" height="1" fill="#ff00ff"/>
<rect x="753" y="809" width="1" height="1" fill="#ff00ff"/>
<rect x="774" y="809" width="1" height="1" fill="#ff00ff"/>
<rect x="795" y="809" width="1" height="1" fill="#ff00ff"/>
<rect x="815" y="809" width="1" height="1" fill="#ff00ff"/>
<rect x="836" y="809" width="1" height="1" fill="#ff00ff"/>
<rect x="857" y="809" width="1" height="1" fill="#ff00ff"/>
<rect x="877" y="809" width="1" height="1" fill="#ff00ff"/>
<rect x="898" y="809" width="1" height="1" fill="#ff00ff"/>
<rect x="919" y="809" width="1" height="1" fill="#ff00ff"/>
<rect x="939" y="809" width="1" height="1" fill="#ff00ff"/>
<rect x="960" y="809" width="1" height="1" fill="#ff00ff"/>
<rect x="981" y="809" width="1" height="1" fill="#ff00ff"/>
<rect x="1001" y="809" width="1" height="1" fill="#ff00ff"/>
<rect x="1022" y="809" width="1" height="1" fill="#ff00ff"/>
<rect x="1043" y="809" width="1" height="1" fill="#ff00ff"/>
<rect x="1063" y="809" width="1" height="1" fill="#ff00ff"/>
<rect x="1084" y="809" width="1" height="1" fill="#ff00ff"/>
<rect x="1105" y="809" width="1" height="1" fill="#ff00ff"/>
<rect x="1125" y="809" width="1" height="1" fill="#ff00ff"/>
<rect x="1146" y="809" width="1" height="1" fill="#ff00ff"/>
<rect x="1167" y="809" width="1" height="1" fill="#ff00ff"/>
<rect x="1187" y="809" width="1" height="1" fill="#ff00ff"/>
<rect x="1208" y="809" width="1" height="1" fill="#ff00ff"/>
<rect x="1229" y="809" width="1" height="1" fill="#ff00ff"/>
<rect x="1250" y="809" width="1" height="1" fill="#ff00ff"/>
<rect x="1270" y="809" width="1" height="1" fill="#ff00ff"/>
<rect x="1291" y="809" width="1" height="1" fill="#ff00ff"/>
<rect x="1312" y="809" width="1" height="1" fill="#ff00ff"/>
<rect x="1332" y="809" width="1" height="1" fill="#ff00ff"/>
<rect x="1353" y="809" width="1" height="1" fill="#ff00ff"/>
<rect x="1374" y="809" width="1" height="1" fill="#ff00ff"/>
<rect x="1394" y="809" width="1" height="1" fill="#ff00ff"/>
<rect x="1415" y="809" width="1" height="1" fill="#ff00ff"/>
<rect x="1436" y="809" width="1" height="1" fill="#ff00ff"/>
<rect x="1456" y="809" width="1" height="1" fill="#ff00ff"/>
<rect x="1477" y="809" width="1" height="1" fill="#ff00ff"/>
<rect x="1498" y="809" width="1" height="1" fill="#ff00ff"/>
<rect x="1518" y="809" width="1" height="1" fill="#ff00ff"/>
<rect x="1539" y="809" width="1" height="1" fill="#ff00ff"/>
<rect x="1560" y="809" width="1" height="1" fill="#ff00ff"/>
<rect x="9" y="846" width="1" height="1" fill="#ffffff"/>
<rect x="30" y="846" width="1" height="1" fill="#ffffff"/>
<rect x="51" y="846" width="1" height="1" fill="#ffffff"/>
<rect x="71" y="846" width="1" height="1" fill="#ffffff"/>
<rect x="92" y="846" width="1" height="1" fill="#ffffff"/>
<rect x="113" y="846" width="1" height="1" fill="#ffffff"/>
<rect x="133" y="846" width="1" height="1" fill="#ffffff"/>
<rect x="154" y="846" width="1" height="1" fill="#ffffff"/>
<rect x="175" y="846" width="1" height="1" fill="#ffffff"/>
<rect x="195" y="846" width="1" height="1" fill="#ffffff"/>
<rect x="216" y="846" width="1" height="1" fill="#ffffff"/>
<rect x="237" y="846" width="1" height="1" fill="#ffffff"/>
<rect x="257" y="846" width="1" height="1" fill="#ffffff"/>
<rect x="278" y="846" width="1" height="1" fill="#ffffff"/>
<rect x="299" y="846" width="1" height="1" fill="#ffffff"/>
<rect x="319" y="846" width="1" height="1" fill="#ffffff"/>
<rect x="340" y="846" width="1" height="1" fill="#ffffff"/>
<rect x="361" y="846" width="1" height="1" fill="#ffffff"/>
<rect x="381" y="846" width="1" height="1" fill="#ffffff"/>
<rect x="402" y="846" width="1" height="1" fill="#ffffff"/>
<rect x="423" y="846" width="1" height="1" fill="#ffffff"/>
<rect x="443" y="846" width="1" height="1" fill="#ffffff"/>
<rect x="464" y="846" width="1" height="1" fill="#ffffff"/>
<rect x="485" y="846" width="1" height="1" fill="#ffffff"/>
<rect x="505" y="846" width="1" height="1" fill="#ffffff"/>
<rect x="526" y="846" width="1" height="1" fill="#ffffff"/>
<rect x="547" y="846" width="1" height="1" fill="#ffffff"/>
<rect x="567" y="846" width="1" height="1" fill="#ffffff"/>
<rect x="588" y="846" width="1" height="1" fill="#ffffff"/>
<rect x="609" y="846" width="1" height="1" fill="#ffffff"/>
<rect x="629" y="846" width="1" height="1" fill="#ffffff"/>
<rect x="650" y="846" width="1" height="1" fill="#ffffff"/>
<rect x="671" y="846" width="1" height="1" fill="#ffffff"/>
<rect x="691" y="846" width="1" height="1" fill="#ffffff"/>
<rect x="712" y="846" width="1" height="1" fill="#ffffff"/>
<rect x="733" y="846" width="1" height="1" fill="#ffffff"/>
<rect x="753" y="846" width="1" height="1" fill="#ffffff"/>
<rect x="774" y="846" width="1" height="1" fill="#ffffff"/>
<rect x="795" y="846" width="1" height="1" fill="#ffffff"/>
<rect x="815" y="846" width="1" height="1" fill="#ffffff"/>
<rect x="836" y="846" width="1" height="1" fill="#ffffff"/>
<rect x="857" y="846" width="1" height="1" fill="#ffffff"/>
<rect x="877" y="846" width="1" height="1" fill="#ffffff"/>
<rect x="898" y="846" width="1" height="1" fill="#ffffff"/>
<rect x="919" y="846" width="1" height="1" fill="#ffffff"/>
<rect x="939" y="846" width="1" height="1" fill="#ffffff"/>
<rect x="960" y="846" width="1" height="1" fill="#ffffff"/>
<rect x="981" y="846" width="1" height="1" fill="#ffffff"/>
<rect x="1001" y="846" width="1" height="1" fill="#ffffff"/>
<rect x="1022" y="846" width="1" height="1" fill="#ffffff"/>
<rect x="1043" y="846" width="1" height="1" fill="#ffffff"/>
<rect x="1063" y="846" width="1" height="1" fill="#ffffff"/>
<rect x="1084" y="846" width="1" height="1" fill="#ffffff"/>
<rect x="1105" y="846" width="1" height="1" fill="#ffffff"/>
<rect x="1125" y="846" width="1" height="1" fill="#ffffff"/>
<rect x="1146" y="846" width="1" height="1" fill="#ffffff"/>
<rect x="1167" y="846" width="1" height="1" fill="#ffffff"/>
<rect x="1187" y="846" width="1" height="1" fill="#ffffff"/>
<rect x="1208" y="846" width="1" height="1" fill="#ffffff"/>
<rect x="1229" y="846" width="1" height="1" fill="#ffffff"/>
<rect x="1250" y="846" width="1" height="1" fill="#ffffff"/>
<rect x="1270" y="846" width="1" height="1" fill="#ffffff"/>
<rect x="1291" y="846" width="1" height="1" fill="#ffffff"/>
<rect x="1312" y="846" width="1" height="1" fill="#ffffff"/>
<rect x="1332" y="846" width="1" height="1" fill="#ffffff"/>
<rect x="1353" y="846" width="1" height="1" fill="#ffffff"/>
<rect x="1374" y="846" width="1" height="1" fill="#ffffff"/>
<rect x="1394" y="846" width="1" height="1" fill="#ffffff"/>
<rect x="1415" y="846" width="1" height="1" fill="#ffffff"/>
<rect x="1436" y="846" width="1" height="1" fill="#ffffff"/>
<rect x="1456" y="846" width="1" height="1" fill="#ffffff"/>
<rect x="1477" y="846" width="1" height="1" fill="#ffffff"/>
<rect x="1498" y="846" width="1" height="1" fill="#ffffff"/>
<rect x="1518" y="846" width="1" height="1" fill="#ffffff"/>
<rect x="1539" y="846" width="1" height="1" fill="#ffffff"/>
<rect x="1560" y="846" width="1" height="1" fill="#ffffff"/>
<rect x="159" y="888" width="1" height="2" fill="#8c0000"/>
<rect x="267" y="888" width="1" height="2" fill="#8c0000"/>
<rect x="375" y="888" width="1" height="2" fill="#8c0000"/>
<rect x="593" y="888" width="1" height="2" fill="#8c0000"/>
<rect x="701" y="888" width="1" height="2" fill="#8c0000"/>
<rect x="810" y="888" width="1" height="2" fill="#8c0000"/>
<rect x="1037" y="888" width="1" height="2" fill="#8c0000"/>
<rect x="1156" y="888" width="1" height="2" fill="#8c0000"/>
<rect x="1274" y="888" width="1" height="2" fill="#8c0000"/>
<rect x="1501" y="888" width="1" height="2" fill="#8c0000"/>
<rect x="50" y="888" width="1" height="15" fill="#8c0000"/>
<rect x="918" y="888" width="1" height="15" fill="#8c0000"/>
<rect x="1393" y="888" width="1" height="15" fill="#8c0000"/>
</g>
<text x="1656.6" y="52" font-size="12" fill="#c40000" textLength="23.3" lengthAdjust="spacingAndGlyphs">7.00</text>
<text x="1656.6" y="85.9" font-size="12" fill="#c40000" textLength="23.3" lengthAdjust="spacingAndGlyphs">6.75</text>
<text x="1656.6" y="117" font-size="12" fill="#c40000" textLength="23.3" lengthAdjust="spacingAndGlyphs">6.50</text>
<text x="1656.6" y="150.9" font-size="12" fill="#c40000" textLength="23.3" lengthAdjust="spacingAndGlyphs">6.25</text>
<text x="1656.6" y="182" font-size="12" fill="#c40000" textLength="23.3" lengthAdjust="spacingAndGlyphs">6.00</text>
<text x="1656.6" y="248" font-size="12" fill="#c40000" textLength="23.3" lengthAdjust="spacingAndGlyphs">5.50</text>
<text x="1656.6" y="281.9" font-size="12" fill="#c40000" textLength="23.3" lengthAdjust="spacingAndGlyphs">5.25</text>
<text x="1656.6" y="313" font-size="12" fill="#c40000" textLength="23.3" lengthAdjust="spacingAndGlyphs">5.00</text>
<text x="1656.6" y="346.9" font-size="12" fill="#c40000" textLength="23.3" lengthAdjust="spacingAndGlyphs">4.75</text>
<text x="1656.6" y="378" font-size="12" fill="#c40000" textLength="23.3" lengthAdjust="spacingAndGlyphs">4.50</text>
<text x="1656.6" y="411.9" font-size="12" fill="#c40000" textLength="23.3" lengthAdjust="spacingAndGlyphs">4.25</text>
<text x="1656.6" y="444" font-size="12" fill="#c40000" textLength="23.3" lengthAdjust="spacingAndGlyphs">4.00</text>
<text x="1656.6" y="477.9" font-size="12" fill="#c40000" textLength="23.3" lengthAdjust="spacingAndGlyphs">3.75</text>
<text x="1656.6" y="509" font-size="12" fill="#c40000" textLength="23.3" lengthAdjust="spacingAndGlyphs">3.50</text>
<clipPath id="c575"><rect x="1636" y="200" width="49" height="12"/></clipPath>
<text x="1656.6" y="215.9" font-size="12" fill="#c40000" textLength="23.3" lengthAdjust="spacingAndGlyphs" clip-path="url(#c575)">5.75</text>
<text x="1649.8" y="618.1" font-size="12" fill="#c40000" textLength="30.4" lengthAdjust="spacingAndGlyphs">100.0</text>
<text x="1649.8" y="666.1" font-size="12" fill="#c40000" textLength="30.4" lengthAdjust="spacingAndGlyphs">80.00</text>
<text x="1649.8" y="715.1" font-size="12" fill="#c40000" textLength="30.4" lengthAdjust="spacingAndGlyphs">60.00</text>
<text x="1649.8" y="764.1" font-size="12" fill="#c40000" textLength="30.4" lengthAdjust="spacingAndGlyphs">40.00</text>
<text x="1649.8" y="813.1" font-size="12" fill="#c40000" textLength="30.4" lengthAdjust="spacingAndGlyphs">20.00</text>
<g shape-rendering="crispEdges">
<rect x="1635" y="212" width="50" height="17" fill="#8c0000"/>
<rect x="1636" y="213" width="49" height="15" fill="#000080"/>
</g>
<text x="1637" y="225" font-size="12" fill="#fff" textLength="23" lengthAdjust="spacingAndGlyphs">5.62</text>
<g shape-rendering="crispEdges">
<rect x="9" y="486" width="1" height="4" fill="#ff3c3c"/>
<rect x="2.5" y="490.5" width="14" height="9" fill="#000" stroke="#ff3c3c" stroke-width="1"/>
<rect x="30" y="479" width="1" height="1" fill="#ff3c3c"/>
<rect x="23.5" y="480.5" width="14" height="11" fill="#000" stroke="#ff3c3c" stroke-width="1"/>
<rect x="51" y="482" width="1" height="13" fill="#00ffff"/>
<rect x="44" y="483" width="15" height="2" fill="#00ffff"/>
<rect x="71" y="480" width="1" height="17" fill="#00ffff"/>
<rect x="64" y="488" width="15" height="5" fill="#00ffff"/>
<rect x="92" y="493" width="1" height="3" fill="#ff3c3c"/>
<rect x="92" y="501" width="1" height="8" fill="#ff3c3c"/>
<rect x="85.5" y="496.5" width="14" height="4" fill="#000" stroke="#ff3c3c" stroke-width="1"/>
<rect x="113" y="485" width="1" height="16" fill="#ff3c3c"/>
<rect x="106" y="495" width="15" height="1" fill="#ff3c3c"/>
<rect x="133" y="481" width="1" height="2" fill="#ff3c3c"/>
<rect x="126.5" y="483.5" width="14" height="11" fill="#000" stroke="#ff3c3c" stroke-width="1"/>
<rect x="154" y="474" width="1" height="24" fill="#00ffff"/>
<rect x="147" y="487" width="15" height="7" fill="#00ffff"/>
<rect x="175" y="485" width="1" height="3" fill="#ff3c3c"/>
<rect x="168.5" y="488.5" width="14" height="8" fill="#000" stroke="#ff3c3c" stroke-width="1"/>
<rect x="195" y="487" width="1" height="21" fill="#00ffff"/>
<rect x="188" y="499" width="15" height="2" fill="#00ffff"/>
<rect x="216" y="506" width="1" height="11" fill="#ff3c3c"/>
<rect x="209.5" y="498.5" width="14" height="7" fill="#000" stroke="#ff3c3c" stroke-width="1"/>
<rect x="237" y="487" width="1" height="14" fill="#00ffff"/>
<rect x="230" y="495" width="15" height="1" fill="#00ffff"/>
<rect x="257" y="488" width="1" height="16" fill="#00ffff"/>
<rect x="250" y="498" width="15" height="1" fill="#00ffff"/>
<rect x="278" y="499" width="1" height="12" fill="#fff"/>
<rect x="271" y="502" width="15" height="1" fill="#fff"/>
<rect x="299" y="466" width="1" height="6" fill="#ff3c3c"/>
<rect x="292.5" y="472.5" width="14" height="27" fill="#000" stroke="#ff3c3c" stroke-width="1"/>
<rect x="319" y="447" width="1" height="6" fill="#ff3c3c"/>
<rect x="319" y="468" width="1" height="4" fill="#ff3c3c"/>
<rect x="312.5" y="453.5" width="14" height="14" fill="#000" stroke="#ff3c3c" stroke-width="1"/>
<rect x="340" y="453" width="1" height="21" fill="#00ffff"/>
<rect x="333" y="453" width="15" height="21" fill="#00ffff"/>
<rect x="361" y="468" width="1" height="16" fill="#00ffff"/>
<rect x="354" y="474" width="15" height="5" fill="#00ffff"/>
<rect x="381" y="476" width="1" height="12" fill="#00ffff"/>
<rect x="374" y="478" width="15" height="4" fill="#00ffff"/>
<rect x="402" y="476" width="1" height="11" fill="#00ffff"/>
<rect x="395" y="478" width="15" height="7" fill="#00ffff"/>
<rect x="416.5" y="472.5" width="14" height="13" fill="#000" stroke="#ff3c3c" stroke-width="1"/>
<rect x="443" y="468" width="1" height="11" fill="#fff"/>
<rect x="436" y="474" width="15" height="1" fill="#fff"/>
<rect x="464" y="462" width="1" height="23" fill="#00ffff"/>
<rect x="457" y="476" width="15" height="6" fill="#00ffff"/>
<rect x="485" y="478" width="1" height="5" fill="#fff"/>
<rect x="478" y="480" width="15" height="1" fill="#fff"/>
<rect x="505" y="468" width="1" height="4" fill="#ff3c3c"/>
<rect x="498.5" y="429.5" width="14" height="38" fill="#000" stroke="#ff3c3c" stroke-width="1"/>
<rect x="526" y="402" width="1" height="8" fill="#ff3c3c"/>
<rect x="526" y="429" width="1" height="7" fill="#ff3c3c"/>
<rect x="519.5" y="410.5" width="14" height="18" fill="#000" stroke="#ff3c3c" stroke-width="1"/>
<rect x="547" y="366" width="1" height="27" fill="#ff3c3c"/>
<rect x="547" y="404" width="1" height="9" fill="#ff3c3c"/>
<rect x="540.5" y="393.5" width="14" height="10" fill="#000" stroke="#ff3c3c" stroke-width="1"/>
<rect x="567" y="368" width="1" height="8" fill="#ff3c3c"/>
<rect x="567" y="387" width="1" height="6" fill="#ff3c3c"/>
<rect x="560.5" y="376.5" width="14" height="10" fill="#000" stroke="#ff3c3c" stroke-width="1"/>
<rect x="588" y="370" width="1" height="3" fill="#ff3c3c"/>
<rect x="588" y="383" width="1" height="14" fill="#ff3c3c"/>
<rect x="581.5" y="373.5" width="14" height="9" fill="#000" stroke="#ff3c3c" stroke-width="1"/>
<rect x="609" y="330" width="1" height="26" fill="#ff3c3c"/>
<rect x="609" y="370" width="1" height="2" fill="#ff3c3c"/>
<rect x="602.5" y="356.5" width="14" height="13" fill="#000" stroke="#ff3c3c" stroke-width="1"/>
<rect x="629" y="343" width="1" height="8" fill="#ff3c3c"/>
<rect x="629" y="360" width="1" height="9" fill="#ff3c3c"/>
<rect x="622.5" y="351.5" width="14" height="8" fill="#000" stroke="#ff3c3c" stroke-width="1"/>
<rect x="650" y="340" width="1" height="10" fill="#ff3c3c"/>
<rect x="650" y="356" width="1" height="8" fill="#ff3c3c"/>
<rect x="643.5" y="350.5" width="14" height="5" fill="#000" stroke="#ff3c3c" stroke-width="1"/>
<rect x="671" y="352" width="1" height="30" fill="#00ffff"/>
<rect x="664" y="356" width="15" height="16" fill="#00ffff"/>
<rect x="691" y="356" width="1" height="6" fill="#ff3c3c"/>
<rect x="691" y="377" width="1" height="1" fill="#ff3c3c"/>
<rect x="684.5" y="362.5" width="14" height="14" fill="#000" stroke="#ff3c3c" stroke-width="1"/>
<rect x="712" y="335" width="1" height="1" fill="#ff3c3c"/>
<rect x="712" y="366" width="1" height="7" fill="#ff3c3c"/>
<rect x="705.5" y="336.5" width="14" height="29" fill="#000" stroke="#ff3c3c" stroke-width="1"/>
<rect x="733" y="331" width="1" height="19" fill="#00ffff"/>
<rect x="726" y="335" width="15" height="11" fill="#00ffff"/>
<rect x="753" y="336" width="1" height="32" fill="#00ffff"/>
<rect x="746" y="336" width="15" height="14" fill="#00ffff"/>
<rect x="774" y="347" width="1" height="22" fill="#00ffff"/>
<rect x="767" y="347" width="15" height="17" fill="#00ffff"/>
<rect x="795" y="356" width="1" height="24" fill="#00ffff"/>
<rect x="788" y="367" width="15" height="3" fill="#00ffff"/>
<rect x="815" y="363" width="1" height="38" fill="#00ffff"/>
<rect x="808" y="367" width="15" height="30" fill="#00ffff"/>
<rect x="836" y="384" width="1" height="22" fill="#fff"/>
<rect x="829" y="394" width="15" height="1" fill="#fff"/>
<rect x="857" y="391" width="1" height="16" fill="#00ffff"/>
<rect x="850" y="394" width="15" height="3" fill="#00ffff"/>
<rect x="877" y="386" width="1" height="18" fill="#00ffff"/>
<rect x="870" y="393" width="15" height="9" fill="#00ffff"/>
<rect x="898" y="382" width="1" height="16" fill="#ff3c3c"/>
<rect x="891.5" y="398.5" width="14" height="3" fill="#000" stroke="#ff3c3c" stroke-width="1"/>
<rect x="919" y="402" width="1" height="9" fill="#ff3c3c"/>
<rect x="912.5" y="391.5" width="14" height="10" fill="#000" stroke="#ff3c3c" stroke-width="1"/>
<rect x="939" y="391" width="1" height="32" fill="#00ffff"/>
<rect x="932" y="401" width="15" height="3" fill="#00ffff"/>
<rect x="960" y="395" width="1" height="19" fill="#00ffff"/>
<rect x="953" y="407" width="15" height="5" fill="#00ffff"/>
<rect x="981" y="390" width="1" height="3" fill="#ff3c3c"/>
<rect x="981" y="404" width="1" height="9" fill="#ff3c3c"/>
<rect x="974.5" y="393.5" width="14" height="10" fill="#000" stroke="#ff3c3c" stroke-width="1"/>
<rect x="1001" y="386" width="1" height="5" fill="#ff3c3c"/>
<rect x="1001" y="394" width="1" height="8" fill="#ff3c3c"/>
<rect x="994.5" y="391.5" width="14" height="2" fill="#000" stroke="#ff3c3c" stroke-width="1"/>
<rect x="1022" y="360" width="1" height="10" fill="#ff3c3c"/>
<rect x="1015.5" y="370.5" width="14" height="20" fill="#000" stroke="#ff3c3c" stroke-width="1"/>
<rect x="1043" y="357" width="1" height="29" fill="#00ffff"/>
<rect x="1036" y="370" width="15" height="14" fill="#00ffff"/>
<rect x="1063" y="370" width="1" height="21" fill="#00ffff"/>
<rect x="1056" y="370" width="15" height="16" fill="#00ffff"/>
<rect x="1084" y="368" width="1" height="1" fill="#ff3c3c"/>
<rect x="1077.5" y="369.5" width="14" height="14" fill="#000" stroke="#ff3c3c" stroke-width="1"/>
<rect x="1105" y="311" width="1" height="12" fill="#ff3c3c"/>
<rect x="1098.5" y="323.5" width="14" height="46" fill="#000" stroke="#ff3c3c" stroke-width="1"/>
<rect x="1125" y="294" width="1" height="10" fill="#ff3c3c"/>
<rect x="1125" y="311" width="1" height="14" fill="#ff3c3c"/>
<rect x="1118.5" y="304.5" width="14" height="6" fill="#000" stroke="#ff3c3c" stroke-width="1"/>
<rect x="1146" y="273" width="1" height="7" fill="#ff3c3c"/>
<rect x="1146" y="285" width="1" height="21" fill="#ff3c3c"/>
<rect x="1139.5" y="280.5" width="14" height="4" fill="#000" stroke="#ff3c3c" stroke-width="1"/>
<rect x="1167" y="260" width="1" height="12" fill="#ff3c3c"/>
<rect x="1167" y="283" width="1" height="4" fill="#ff3c3c"/>
<rect x="1160.5" y="272.5" width="14" height="10" fill="#000" stroke="#ff3c3c" stroke-width="1"/>
<rect x="1187" y="259" width="1" height="26" fill="#00ffff"/>
<rect x="1180" y="273" width="15" height="6" fill="#00ffff"/>
<rect x="1208" y="283" width="1" height="6" fill="#ff3c3c"/>
<rect x="1201.5" y="212.5" width="14" height="70" fill="#000" stroke="#ff3c3c" stroke-width="1"/>
<rect x="1229" y="202" width="1" height="50" fill="#00ffff"/>
<rect x="1222" y="218" width="15" height="28" fill="#00ffff"/>
<rect x="1250" y="218" width="1" height="3" fill="#ff3c3c"/>
<rect x="1250" y="258" width="1" height="3" fill="#ff3c3c"/>
<rect x="1243.5" y="221.5" width="14" height="36" fill="#000" stroke="#ff3c3c" stroke-width="1"/>
<rect x="1270" y="208" width="1" height="37" fill="#00ffff"/>
<rect x="1263" y="220" width="15" height="25" fill="#00ffff"/>
<rect x="1291" y="208" width="1" height="8" fill="#ff3c3c"/>
<rect x="1291" y="230" width="1" height="12" fill="#ff3c3c"/>
<rect x="1284.5" y="216.5" width="14" height="13" fill="#000" stroke="#ff3c3c" stroke-width="1"/>
<rect x="1312" y="178" width="1" height="25" fill="#ff3c3c"/>
<rect x="1312" y="228" width="1" height="7" fill="#ff3c3c"/>
<rect x="1305.5" y="203.5" width="14" height="24" fill="#000" stroke="#ff3c3c" stroke-width="1"/>
<rect x="1332" y="203" width="1" height="15" fill="#ff3c3c"/>
<rect x="1332" y="224" width="1" height="28" fill="#ff3c3c"/>
<rect x="1325.5" y="218.5" width="14" height="5" fill="#000" stroke="#ff3c3c" stroke-width="1"/>
<rect x="1353" y="206" width="1" height="35" fill="#00ffff"/>
<rect x="1346" y="218" width="15" height="13" fill="#00ffff"/>
<rect x="1374" y="232" width="1" height="43" fill="#00ffff"/>
<rect x="1367" y="236" width="15" height="13" fill="#00ffff"/>
<rect x="1394" y="240" width="1" height="27" fill="#00ffff"/>
<rect x="1387" y="244" width="15" height="11" fill="#00ffff"/>
<rect x="1415" y="208" width="1" height="20" fill="#ff3c3c"/>
<rect x="1408.5" y="228.5" width="14" height="17" fill="#000" stroke="#ff3c3c" stroke-width="1"/>
<rect x="1436" y="191" width="1" height="6" fill="#ff3c3c"/>
<rect x="1436" y="224" width="1" height="13" fill="#ff3c3c"/>
<rect x="1429.5" y="197.5" width="14" height="26" fill="#000" stroke="#ff3c3c" stroke-width="1"/>
<rect x="1456" y="135" width="1" height="3" fill="#ff3c3c"/>
<rect x="1456" y="198" width="1" height="9" fill="#ff3c3c"/>
<rect x="1449.5" y="138.5" width="14" height="59" fill="#000" stroke="#ff3c3c" stroke-width="1"/>
<rect x="1477" y="148" width="1" height="14" fill="#ff3c3c"/>
<rect x="1470.5" y="55.5" width="14" height="92" fill="#000" stroke="#ff3c3c" stroke-width="1"/>
<rect x="1498" y="61" width="1" height="43" fill="#00ffff"/>
<rect x="1491" y="66" width="15" height="12" fill="#00ffff"/>
<rect x="1518" y="28" width="1" height="34" fill="#ff3c3c"/>
<rect x="1518" y="87" width="1" height="13" fill="#ff3c3c"/>
<rect x="1511.5" y="62.5" width="14" height="24" fill="#000" stroke="#ff3c3c" stroke-width="1"/>
<rect x="1539" y="57" width="1" height="60" fill="#00ffff"/>
<rect x="1532" y="62" width="15" height="43" fill="#00ffff"/>
<rect x="1553" y="105" width="15" height="1" fill="#fff"/>
</g>
<path d="M9 475.5h4M13 474.5h7M20 473.5h7M27 472.5h3M30 472.5h11M41 471.5h10M51 471.5h20M71 471.5h11M82 472.5h10M92 472.5h4M96 473.5h7M103 474.5h7M110 475.5h3M113 475.5h11M124 474.5h9M133 474.5h11M144 475.5h10M154 475.5h11M165 476.5h10M175 476.5h20M195 476.5h21M216 476.5h11M227 477.5h10M237 477.5h11M248 478.5h9M257 478.5h21M278 478.5h2M280 477.5h4M284 476.5h3M287 475.5h4M291 474.5h3M294 473.5h4M298 472.5h1M299 472.5h2M301 471.5h3M304 470.5h3M307 469.5h3M310 468.5h2M312 467.5h3M315 466.5h3M318 465.5h1M319 465.5h21M340 465.5h11M351 464.5h10M361 464.5h11M372 463.5h9M381 463.5h21M402 463.5h6M408 462.5h10M418 461.5h5M423 461.5h20M443 461.5h21M464 461.5h11M475 460.5h10M485 460.5h1M486 459.5h2M488 458.5h1M489 457.5h2M491 456.5h1M492 455.5h1M493 454.5h2M495 453.5h1M496 452.5h2M498 451.5h1M499 450.5h2M501 449.5h1M502 448.5h1M503 447.5h2M505 446.5h1M506 445.5h2M508 444.5h1M509 443.5h1M510 442.5h2M512 441.5h1M513 440.5h2M515 439.5h1M516 438.5h1M517 437.5h2M519 436.5h1M520 435.5h2M522 434.5h1M523 433.5h1M524 432.5h2M526 431.5h1M527 430.5h1M528 429.5h1M529 428.5h2M531 427.5h1M532 426.5h1M533 425.5h1M534 424.5h1M535 423.5h1M536 422.5h2M538 421.5h1M539 420.5h1M540 419.5h1M541 418.5h1M542 417.5h1M543 416.5h2M545 415.5h1M546 414.5h1M547 413.5h1M548 412.5h1M549 411.5h1M550 410.5h1M551 409.5h2M553 408.5h1M554 407.5h1M555 406.5h1M556 405.5h1M557 404.5h1M558 403.5h1M559 402.5h1M560 401.5h1M561 400.5h2M563 399.5h1M564 398.5h1M565 397.5h1M566 396.5h1M567 395.5h1M568 394.5h1M569 393.5h2M571 392.5h1M572 391.5h1M573 390.5h1M574 389.5h2M576 388.5h1M577 387.5h1M578 386.5h1M579 385.5h1M580 384.5h2M582 383.5h1M583 382.5h1M584 381.5h1M585 380.5h2M587 379.5h1M588 378.5h1M589 377.5h1M590 376.5h1M591 375.5h2M593 374.5h1M594 373.5h1M595 372.5h1M596 371.5h1M597 370.5h1M598 369.5h2M600 368.5h1M601 367.5h1M602 366.5h1M603 365.5h1M604 364.5h1M605 363.5h2M607 362.5h1M608 361.5h1M609 360.5h1M610 359.5h2M612 358.5h1M613 357.5h2M615 356.5h1M616 355.5h1M617 354.5h2M619 353.5h1M620 352.5h2M622 351.5h1M623 350.5h2M625 349.5h1M626 348.5h1M627 347.5h2M629 346.5h1M630 345.5h2M632 344.5h1M633 343.5h1M634 342.5h2M636 341.5h1M637 340.5h2M639 339.5h1M640 338.5h1M641 337.5h2M643 336.5h1M644 335.5h2M646 334.5h1M647 333.5h1M648 332.5h2M650 331.5h2M652 330.5h3M655 329.5h3M658 328.5h3M661 327.5h3M664 326.5h3M667 325.5h3M670 324.5h1M671 324.5h2M673 323.5h3M676 322.5h3M679 321.5h3M682 320.5h2M684 319.5h3M687 318.5h3M690 317.5h1M691 317.5h2M693 316.5h2M695 315.5h2M697 314.5h3M700 313.5h2M702 312.5h2M704 311.5h3M707 310.5h2M709 309.5h2M711 308.5h1M712 308.5h2M714 307.5h2M716 306.5h2M718 305.5h2M720 304.5h2M722 303.5h2M724 302.5h2M726 301.5h2M728 300.5h2M730 299.5h2M732 298.5h1M733 298.5h2M735 297.5h4M739 296.5h3M742 295.5h3M745 294.5h4M749 293.5h3M752 292.5h1M753 292.5h6M759 291.5h10M769 290.5h5M774 290.5h21M795 290.5h4M799 291.5h7M806 292.5h6M812 293.5h3M815 293.5h3M818 294.5h5M823 295.5h6M829 296.5h5M834 297.5h2M836 297.5h3M839 298.5h4M843 299.5h4M847 300.5h4M851 301.5h4M855 302.5h2M857 302.5h2M859 303.5h2M861 304.5h2M863 305.5h2M865 306.5h2M867 307.5h2M869 308.5h2M871 309.5h2M873 310.5h2M875 311.5h2M877 312.5h1M878 313.5h2M880 314.5h2M882 315.5h1M883 316.5h2M885 317.5h1M886 318.5h2M888 319.5h2M890 320.5h1M891 321.5h2M893 322.5h1M894 323.5h2M896 324.5h2M898 325.5h3M901 326.5h4M905 327.5h4M909 328.5h4M913 329.5h4M917 330.5h2M919 330.5h11M930 331.5h9M939 331.5h6M945 330.5h10M955 329.5h5M960 329.5h21M981 329.5h11M992 330.5h9M1001 330.5h11M1012 331.5h10M1022 331.5h3M1025 332.5h5M1030 333.5h6M1036 334.5h5M1041 335.5h2M1043 335.5h3M1046 336.5h5M1051 337.5h5M1056 338.5h5M1061 339.5h2M1063 339.5h11M1074 338.5h10M1084 338.5h2M1086 337.5h2M1088 336.5h3M1091 335.5h3M1094 334.5h2M1096 333.5h3M1099 332.5h3M1102 331.5h2M1104 330.5h1M1105 330.5h2M1107 329.5h2M1109 328.5h2M1111 327.5h2M1113 326.5h2M1115 325.5h2M1117 324.5h2M1119 323.5h2M1121 322.5h2M1123 321.5h2M1125 320.5h1M1126 319.5h1M1127 318.5h2M1129 317.5h1M1130 316.5h1M1131 315.5h1M1132 314.5h2M1134 313.5h1M1135 312.5h1M1136 311.5h1M1137 310.5h1M1138 309.5h2M1140 308.5h1M1141 307.5h1M1142 306.5h1M1143 305.5h2M1145 304.5h1M1146 303.5h1M1147 302.5h1M1148 301.5h2M1150 300.5h1M1151 299.5h1M1152 298.5h2M1154 297.5h1M1155 296.5h1M1156 295.5h2M1158 294.5h1M1159 293.5h1M1160 292.5h2M1162 291.5h1M1163 290.5h1M1164 289.5h2M1166 288.5h1M1167 287.5h1M1168 286.5h1M1169 285.5h2M1171 284.5h1M1172 283.5h1M1173 282.5h1M1174 281.5h2M1176 280.5h1M1177 279.5h1M1178 278.5h1M1179 277.5h2M1181 276.5h1M1182 275.5h1M1183 274.5h1M1184 273.5h2M1186 272.5h1M1187.5 271v1M1188.5 269v2M1189.5 268v1M1190.5 267v1M1191.5 265v2M1192.5 264v1M1193.5 263v1M1194.5 261v2M1195.5 260v1M1196.5 259v1M1197.5 257v2M1198.5 256v1M1199.5 255v1M1200.5 253v2M1201.5 252v1M1202.5 251v1M1203.5 249v2M1204.5 248v1M1205.5 247v1M1206.5 245v2M1207.5 244v1M1208 243.5h1M1209 242.5h1M1210 241.5h2M1212 240.5h1M1213 239.5h1M1214 238.5h2M1216 237.5h1M1217 236.5h1M1218 235.5h2M1220 234.5h1M1221 233.5h1M1222 232.5h2M1224 231.5h1M1225 230.5h1M1226 229.5h2M1228 228.5h1M1229 227.5h1M1230 226.5h1M1231 225.5h1M1232 224.5h1M1233 223.5h1M1234 222.5h1M1235 221.5h1M1236 220.5h1M1237 219.5h1M1238 218.5h1M1239 217.5h2M1241 216.5h1M1242 215.5h1M1243 214.5h1M1244 213.5h1M1245 212.5h1M1246 211.5h1M1247 210.5h1M1248 209.5h1M1249 208.5h1M1250 207.5h1M1251 206.5h2M1253 205.5h2M1255 204.5h2M1257 203.5h2M1259 202.5h2M1261 201.5h1M1262 200.5h2M1264 199.5h2M1266 198.5h2M1268 197.5h2M1270 196.5h1M1271 195.5h1M1272 194.5h2M1274 193.5h1M1275 192.5h1M1276 191.5h2M1278 190.5h1M1279 189.5h1M1280 188.5h2M1282 187.5h1M1283 186.5h1M1284 185.5h2M1286 184.5h1M1287 183.5h1M1288 182.5h2M1290 181.5h1M1291 180.5h1M1292 179.5h1M1293 178.5h2M1295 177.5h1M1296 176.5h1M1297 175.5h2M1299 174.5h1M1300 173.5h1M1301 172.5h2M1303 171.5h1M1304 170.5h1M1305 169.5h2M1307 168.5h1M1308 167.5h1M1309 166.5h2M1311 165.5h1M1312 164.5h2M1314 163.5h2M1316 162.5h2M1318 161.5h2M1320 160.5h3M1323 159.5h2M1325 158.5h2M1327 157.5h2M1329 156.5h2M1331 155.5h1M1332 155.5h3M1335 154.5h4M1339 153.5h4M1343 152.5h4M1347 151.5h4M1351 150.5h2M1353 150.5h11M1364 151.5h10M1374 151.5h11M1385 152.5h9M1394 152.5h21M1415 152.5h3M1418 151.5h5M1423 150.5h6M1429 149.5h5M1434 148.5h2M1436 148.5h1M1437 147.5h2M1439 146.5h2M1441 145.5h1M1442 144.5h2M1444 143.5h2M1446 142.5h1M1447 141.5h2M1449 140.5h2M1451 139.5h1M1452 138.5h2M1454 137.5h2M1456.5 136v1M1457.5 134v2M1458.5 133v1M1459.5 131v2M1460.5 130v1M1461.5 129v1M1462.5 127v2M1463.5 126v1M1464.5 124v2M1465.5 123v1M1466.5 121v2M1467.5 120v1M1468.5 119v1M1469.5 117v2M1470.5 116v1M1471.5 114v2M1472.5 113v1M1473.5 111v2M1474.5 110v1M1475.5 109v1M1476.5 107v2M1477 106.5h1M1478 105.5h1M1479 104.5h2M1481 103.5h1M1482 102.5h1M1483 101.5h2M1485 100.5h1M1486 99.5h1M1487 98.5h2M1489 97.5h1M1490 96.5h1M1491 95.5h2M1493 94.5h1M1494 93.5h1M1495 92.5h2M1497 91.5h1M1498.5 90v1M1499.5 89v1M1500.5 87v2M1501.5 86v1M1502.5 85v1M1503.5 84v1M1504.5 83v1M1505.5 81v2M1506.5 80v1M1507.5 79v1M1508.5 78v1M1509.5 77v1M1510.5 75v2M1511.5 74v1M1512.5 73v1M1513.5 72v1M1514.5 71v1M1515.5 69v2M1516.5 68v1M1517.5 67v1M1518 66.5h1M1519 65.5h2M1521 64.5h2M1523 63.5h2M1525 62.5h2M1527 61.5h2M1529 60.5h2M1531 59.5h2M1533 58.5h2M1535 57.5h2M1537 56.5h2M1539 55.5h2M1541 54.5h2M1543 53.5h2M1545 52.5h3M1548 51.5h2M1550 50.5h2M1552 49.5h3M1555 48.5h2M1557 47.5h2M1559 46.5h2" fill="none" stroke="#ffff00" stroke-width="1" shape-rendering="crispEdges"/>
<path d="M9 499.5h11M20 498.5h10M30 498.5h11M41 497.5h10M51 497.5h11M62 496.5h9M71 496.5h11M82 495.5h10M92 495.5h11M103 494.5h10M113 494.5h20M133 494.5h21M154 494.5h21M175 494.5h20M195 494.5h21M216 494.5h21M237 494.5h20M257 494.5h6M263 495.5h10M273 496.5h5M278 496.5h11M289 495.5h10M299 495.5h4M303 494.5h7M310 493.5h6M316 492.5h3M319 492.5h6M325 491.5h10M335 490.5h5M340 490.5h6M346 489.5h10M356 488.5h5M361 488.5h20M381 488.5h11M392 487.5h10M402 487.5h21M423 487.5h11M434 486.5h9M443 486.5h21M464 486.5h11M475 485.5h10M485 485.5h6M491 484.5h10M501 483.5h4M505 483.5h2M507 482.5h4M511 481.5h3M514 480.5h4M518 479.5h3M521 478.5h4M525 477.5h1M526 477.5h3M529 476.5h5M534 475.5h6M540 474.5h5M545 473.5h2M547 473.5h2M549 472.5h4M553 471.5h3M556 470.5h3M559 469.5h4M563 468.5h3M566 467.5h1M567 467.5h3M570 466.5h4M574 465.5h4M578 464.5h4M582 463.5h4M586 462.5h2M588 462.5h2M590 461.5h3M593 460.5h3M596 459.5h3M599 458.5h3M602 457.5h3M605 456.5h3M608 455.5h1M609 455.5h2M611 454.5h2M613 453.5h3M616 452.5h2M618 451.5h3M621 450.5h2M623 449.5h3M626 448.5h2M628 447.5h1M629 447.5h2M631 446.5h2M633 445.5h3M636 444.5h3M639 443.5h2M641 442.5h3M644 441.5h3M647 440.5h2M649 439.5h1M650 439.5h2M652 438.5h3M655 437.5h3M658 436.5h3M661 435.5h3M664 434.5h3M667 433.5h3M670 432.5h1M671 432.5h2M673 431.5h3M676 430.5h3M679 429.5h3M682 428.5h2M684 427.5h3M687 426.5h3M690 425.5h1M691 425.5h2M693 424.5h3M696 423.5h3M699 422.5h3M702 421.5h3M705 420.5h3M708 419.5h3M711 418.5h1M712 418.5h2M714 417.5h4M718 416.5h3M721 415.5h4M725 414.5h3M728 413.5h4M732 412.5h1M733 412.5h3M736 411.5h4M740 410.5h4M744 409.5h4M748 408.5h4M752 407.5h1M753 407.5h3M756 406.5h4M760 405.5h4M764 404.5h4M768 403.5h4M772 402.5h2M774 402.5h3M777 401.5h4M781 400.5h4M785 399.5h4M789 398.5h4M793 397.5h2M795 397.5h3M798 396.5h5M803 395.5h5M808 394.5h5M813 393.5h2M815 393.5h3M818 392.5h4M822 391.5h4M826 390.5h4M830 389.5h4M834 388.5h2M836 388.5h3M839 387.5h5M844 386.5h6M850 385.5h5M855 384.5h2M857 384.5h3M860 383.5h5M865 382.5h5M870 381.5h5M875 380.5h2M877 380.5h3M880 379.5h5M885 378.5h6M891 377.5h5M896 376.5h2M898 376.5h6M904 375.5h10M914 374.5h5M919 374.5h20M939 374.5h11M950 375.5h10M960 375.5h11M971 376.5h10M981 376.5h11M992 377.5h9M1001 377.5h11M1012 378.5h10M1022 378.5h11M1033 379.5h10M1043 379.5h11M1054 380.5h9M1063 380.5h21M1084 380.5h11M1095 379.5h10M1105 379.5h4M1109 378.5h7M1116 377.5h6M1122 376.5h3M1125 376.5h3M1128 375.5h5M1133 374.5h6M1139 373.5h5M1144 372.5h2M1146 372.5h4M1150 371.5h7M1157 370.5h7M1164 369.5h3M1167 369.5h4M1171 368.5h7M1178 367.5h6M1184 366.5h3M1187 366.5h2M1189 365.5h2M1191 364.5h3M1194 363.5h3M1197 362.5h2M1199 361.5h3M1202 360.5h3M1205 359.5h2M1207 358.5h1M1208 358.5h2M1210 357.5h2M1212 356.5h3M1215 355.5h3M1218 354.5h2M1220 353.5h3M1223 352.5h3M1226 351.5h2M1228 350.5h1M1229 350.5h2M1231 349.5h2M1233 348.5h2M1235 347.5h3M1238 346.5h2M1240 345.5h2M1242 344.5h3M1245 343.5h2M1247 342.5h2M1249 341.5h1M1250 341.5h2M1252 340.5h2M1254 339.5h3M1257 338.5h2M1259 337.5h3M1262 336.5h2M1264 335.5h3M1267 334.5h2M1269 333.5h1M1270 333.5h2M1272 332.5h2M1274 331.5h2M1276 330.5h3M1279 329.5h2M1281 328.5h2M1283 327.5h3M1286 326.5h2M1288 325.5h2M1290 324.5h1M1291 324.5h2M1293 323.5h2M1295 322.5h2M1297 321.5h3M1300 320.5h2M1302 319.5h2M1304 318.5h3M1307 317.5h2M1309 316.5h2M1311 315.5h1M1312 315.5h2M1314 314.5h2M1316 313.5h3M1319 312.5h2M1321 311.5h3M1324 310.5h2M1326 309.5h3M1329 308.5h2M1331 307.5h1M1332 307.5h2M1334 306.5h2M1336 305.5h3M1339 304.5h3M1342 303.5h2M1344 302.5h3M1347 301.5h3M1350 300.5h2M1352 299.5h1M1353 299.5h2M1355 298.5h2M1357 297.5h3M1360 296.5h3M1363 295.5h2M1365 294.5h3M1368 293.5h3M1371 292.5h2M1373 291.5h1M1374 291.5h2M1376 290.5h2M1378 289.5h3M1381 288.5h2M1383 287.5h3M1386 286.5h2M1388 285.5h3M1391 284.5h2M1393 283.5h1M1394 283.5h2M1396 282.5h2M1398 281.5h2M1400 280.5h3M1403 279.5h2M1405 278.5h2M1407 277.5h3M1410 276.5h2M1412 275.5h2M1414 274.5h1M1415 274.5h2M1417 273.5h2M1419 272.5h3M1422 271.5h3M1425 270.5h2M1427 269.5h3M1430 268.5h3M1433 267.5h2M1435 266.5h1M1436 266.5h1M1437 265.5h2M1439 264.5h2M1441 263.5h1M1442 262.5h2M1444 261.5h2M1446 260.5h1M1447 259.5h2M1449 258.5h2M1451 257.5h1M1452 256.5h2M1454 255.5h2M1456 254.5h1M1457 253.5h1M1458 252.5h2M1460 251.5h1M1461 250.5h1M1462 249.5h1M1463 248.5h2M1465 247.5h1M1466 246.5h1M1467 245.5h1M1468 244.5h1M1469 243.5h2M1471 242.5h1M1472 241.5h1M1473 240.5h1M1474 239.5h2M1476 238.5h1M1477 237.5h1M1478 236.5h2M1480 235.5h1M1481 234.5h1M1482 233.5h2M1484 232.5h1M1485 231.5h2M1487 230.5h1M1488 229.5h1M1489 228.5h2M1491 227.5h1M1492 226.5h2M1494 225.5h1M1495 224.5h1M1496 223.5h2M1498 222.5h1M1499 221.5h2M1501 220.5h1M1502 219.5h2M1504 218.5h1M1505 217.5h1M1506 216.5h2M1508 215.5h1M1509 214.5h2M1511 213.5h1M1512 212.5h2M1514 211.5h1M1515 210.5h1M1516 209.5h2M1518 208.5h2M1520 207.5h2M1522 206.5h2M1524 205.5h3M1527 204.5h2M1529 203.5h2M1531 202.5h3M1534 201.5h2M1536 200.5h2M1538 199.5h1M1539 199.5h2M1541 198.5h2M1543 197.5h3M1546 196.5h3M1549 195.5h2M1551 194.5h3M1554 193.5h3M1557 192.5h2M1559 191.5h2" fill="none" stroke="#ffffff" stroke-width="1" shape-rendering="crispEdges"/>
<path d="M9 524.5h21M30 524.5h21M51 524.5h11M62 523.5h9M71 523.5h3M74 522.5h4M78 521.5h4M82 520.5h4M86 519.5h4M90 518.5h2M92 518.5h3M95 517.5h4M99 516.5h4M103 515.5h4M107 514.5h4M111 513.5h2M113 513.5h20M133 513.5h21M154 513.5h11M165 512.5h10M175 512.5h11M186 513.5h9M195 513.5h21M216 513.5h11M227 512.5h10M237 512.5h11M248 511.5h9M257 511.5h11M268 512.5h10M278 512.5h6M284 513.5h10M294 514.5h5M299 514.5h6M305 515.5h10M315 516.5h4M319 516.5h4M323 515.5h7M330 514.5h7M337 513.5h3M340 513.5h21M361 513.5h20M381 513.5h6M387 512.5h10M397 511.5h5M402 511.5h21M423 511.5h20M443 511.5h21M464 511.5h21M485 511.5h2M487 512.5h4M491 513.5h3M494 514.5h3M497 515.5h4M501 516.5h3M504 517.5h1M505 517.5h2M507 518.5h2M509 519.5h3M512 520.5h3M515 521.5h2M517 522.5h3M520 523.5h3M523 524.5h2M525 525.5h1M526 525.5h2M528 526.5h2M530 527.5h2M532 528.5h2M534 529.5h2M536 530.5h2M538 531.5h2M540 532.5h2M542 533.5h2M544 534.5h2M546 535.5h1M547 535.5h2M549 536.5h3M552 537.5h3M555 538.5h3M558 539.5h2M560 540.5h3M563 541.5h3M566 542.5h1M567 542.5h3M570 543.5h5M575 544.5h6M581 545.5h5M586 546.5h2M588 546.5h6M594 547.5h10M604 548.5h5M609 548.5h6M615 549.5h10M625 550.5h4M629 550.5h6M635 549.5h10M645 548.5h5M650 548.5h2M652 547.5h4M656 546.5h3M659 545.5h4M663 544.5h3M666 543.5h4M670 542.5h1M671 542.5h2M673 541.5h2M675 540.5h3M678 539.5h2M680 538.5h3M683 537.5h2M685 536.5h3M688 535.5h2M690 534.5h1M691 534.5h6M697 533.5h10M707 532.5h5M712 532.5h6M718 531.5h10M728 530.5h5M733 530.5h2M735 529.5h4M739 528.5h3M742 527.5h3M745 526.5h4M749 525.5h3M752 524.5h1M753 524.5h2M755 523.5h2M757 522.5h3M760 521.5h3M763 520.5h2M765 519.5h3M768 518.5h3M771 517.5h2M773 516.5h1M774 516.5h1M775 515.5h2M777 514.5h2M779 513.5h1M780 512.5h2M782 511.5h1M783 510.5h2M785 509.5h2M787 508.5h1M788 507.5h2M790 506.5h1M791 505.5h2M793 504.5h2M795 503.5h1M796 502.5h2M798 501.5h1M799 500.5h2M801 499.5h1M802 498.5h2M804 497.5h2M806 496.5h1M807 495.5h2M809 494.5h1M810 493.5h2M812 492.5h1M813 491.5h2M815 490.5h1M816 489.5h2M818 488.5h2M820 487.5h1M821 486.5h2M823 485.5h1M824 484.5h2M826 483.5h2M828 482.5h1M829 481.5h2M831 480.5h1M832 479.5h2M834 478.5h2M836 477.5h1M837 476.5h2M839 475.5h1M840 474.5h1M841 473.5h2M843 472.5h1M844 471.5h2M846 470.5h1M847 469.5h1M848 468.5h2M850 467.5h1M851 466.5h2M853 465.5h1M854 464.5h1M855 463.5h2M857 462.5h1M858 461.5h1M859 460.5h2M861 459.5h1M862 458.5h1M863 457.5h1M864 456.5h2M866 455.5h1M867 454.5h1M868 453.5h1M869 452.5h2M871 451.5h1M872 450.5h1M873 449.5h1M874 448.5h2M876 447.5h1M877 446.5h1M878 445.5h1M879 444.5h1M880 443.5h1M881 442.5h1M882 441.5h2M884 440.5h1M885 439.5h1M886 438.5h1M887 437.5h1M888 436.5h1M889 435.5h1M890 434.5h1M891 433.5h1M892 432.5h2M894 431.5h1M895 430.5h1M896 429.5h1M897 428.5h1M898 427.5h2M900 426.5h2M902 425.5h2M904 424.5h3M907 423.5h2M909 422.5h2M911 421.5h3M914 420.5h2M916 419.5h2M918 418.5h1M919 418.5h11M930 417.5h9M939 417.5h3M942 418.5h5M947 419.5h6M953 420.5h5M958 421.5h2M960 421.5h11M971 422.5h10M981 422.5h6M987 423.5h10M997 424.5h4M1001 424.5h21M1022 424.5h21M1043 424.5h11M1054 423.5h9M1063 423.5h21M1084 423.5h2M1086 424.5h3M1089 425.5h3M1092 426.5h3M1095 427.5h3M1098 428.5h3M1101 429.5h3M1104 430.5h1M1105 430.5h3M1108 431.5h5M1113 432.5h5M1118 433.5h5M1123 434.5h2M1125 434.5h2M1127 435.5h2M1129 436.5h2M1131 437.5h3M1134 438.5h2M1136 439.5h2M1138 440.5h3M1141 441.5h2M1143 442.5h2M1145 443.5h1M1146 443.5h2M1148 444.5h2M1150 445.5h2M1152 446.5h3M1155 447.5h2M1157 448.5h2M1159 449.5h3M1162 450.5h2M1164 451.5h2M1166 452.5h1M1167 452.5h3M1170 453.5h4M1174 454.5h4M1178 455.5h4M1182 456.5h4M1186 457.5h1M1187 457.5h1M1188 458.5h1M1189 459.5h2M1191 460.5h1M1192 461.5h1M1193 462.5h2M1195 463.5h1M1196 464.5h1M1197 465.5h2M1199 466.5h1M1200 467.5h1M1201 468.5h2M1203 469.5h1M1204 470.5h1M1205 471.5h2M1207 472.5h1M1208 473.5h11M1219 474.5h10M1229 474.5h6M1235 475.5h10M1245 476.5h5M1250 476.5h4M1254 475.5h7M1261 474.5h6M1267 473.5h3M1270 473.5h3M1273 472.5h5M1278 471.5h6M1284 470.5h5M1289 469.5h2M1291 469.5h3M1294 468.5h5M1299 467.5h6M1305 466.5h5M1310 465.5h2M1312 465.5h2M1314 464.5h2M1316 463.5h3M1319 462.5h2M1321 461.5h3M1324 460.5h2M1326 459.5h3M1329 458.5h2M1331 457.5h1M1332 457.5h1M1333 456.5h2M1335 455.5h2M1337 454.5h2M1339 453.5h1M1340 452.5h2M1342 451.5h2M1344 450.5h2M1346 449.5h1M1347 448.5h2M1349 447.5h2M1351 446.5h2M1353 445.5h1M1354 444.5h1M1355 443.5h1M1356 442.5h2M1358 441.5h1M1359 440.5h1M1360 439.5h1M1361 438.5h1M1362 437.5h1M1363 436.5h2M1365 435.5h1M1366 434.5h1M1367 433.5h1M1368 432.5h1M1369 431.5h1M1370 430.5h2M1372 429.5h1M1373 428.5h1M1374 427.5h1M1375 426.5h2M1377 425.5h1M1378 424.5h1M1379 423.5h2M1381 422.5h1M1382 421.5h1M1383 420.5h2M1385 419.5h1M1386 418.5h1M1387 417.5h2M1389 416.5h1M1390 415.5h1M1391 414.5h2M1393 413.5h1M1394 412.5h1M1395 411.5h1M1396 410.5h2M1398 409.5h1M1399 408.5h1M1400 407.5h2M1402 406.5h1M1403 405.5h1M1404 404.5h2M1406 403.5h1M1407 402.5h1M1408 401.5h2M1410 400.5h1M1411 399.5h1M1412 398.5h2M1414 397.5h1M1415 396.5h1M1416 395.5h2M1418 394.5h2M1420 393.5h2M1422 392.5h1M1423 391.5h2M1425 390.5h2M1427 389.5h2M1429 388.5h1M1430 387.5h2M1432 386.5h2M1434 385.5h2M1436 384.5h1M1437 383.5h2M1439 382.5h2M1441 381.5h1M1442 380.5h2M1444 379.5h2M1446 378.5h1M1447 377.5h2M1449 376.5h2M1451 375.5h1M1452 374.5h2M1454 373.5h2M1456 372.5h4M1460 371.5h7M1467 370.5h7M1474 369.5h3M1477 369.5h1M1478 368.5h2M1480 367.5h2M1482 366.5h2M1484 365.5h1M1485 364.5h2M1487 363.5h2M1489 362.5h2M1491 361.5h1M1492 360.5h2M1494 359.5h2M1496 358.5h2M1498 357.5h3M1501 356.5h5M1506 355.5h5M1511 354.5h5M1516 353.5h2M1518 353.5h2M1520 352.5h2M1522 351.5h2M1524 350.5h2M1526 349.5h2M1528 348.5h2M1530 347.5h2M1532 346.5h2M1534 345.5h2M1536 344.5h2M1538 343.5h1M1539 343.5h2M1541 342.5h2M1543 341.5h3M1546 340.5h3M1549 339.5h2M1551 338.5h3M1554 337.5h3M1557 336.5h2M1559 335.5h2" fill="none" stroke="#ff00ff" stroke-width="1" shape-rendering="crispEdges"/>
<g shape-rendering="crispEdges">
<rect x="2" y="493" width="18" height="7" fill="url(#gy)"/>
<rect x="123" y="494" width="21" height="3" fill="url(#gy)"/>
<rect x="289" y="499" width="21" height="4" fill="url(#gy)"/>
<rect x="413" y="482" width="21" height="4" fill="url(#gy)"/>
<rect x="495" y="480" width="21" height="3" fill="url(#gy)"/>
<rect x="702" y="361" width="21" height="12" fill="url(#gy)"/>
<rect x="909" y="398" width="21" height="5" fill="url(#gy)"/>
<rect x="971" y="404" width="21" height="9" fill="url(#gy)"/>
<rect x="1074" y="384" width="21" height="3" fill="url(#gy)"/>
<rect x="1198" y="272" width="21" height="9" fill="url(#gy)"/>
<rect x="1405" y="249" width="21" height="7" fill="url(#gy)"/>
</g>
<text x="9.2" y="503" font-size="12" fill="#d4f434" textLength="23.2" lengthAdjust="spacingAndGlyphs">短买</text>
<text x="133.5" y="499" font-size="12" fill="#d4f434" textLength="23.2" lengthAdjust="spacingAndGlyphs">短买</text>
<text x="299.2" y="505.8" font-size="12" fill="#d4f434" textLength="23.2" lengthAdjust="spacingAndGlyphs">短买</text>
<text x="422.7" y="488.3" font-size="12" fill="#d4f434" textLength="23.2" lengthAdjust="spacingAndGlyphs">短买</text>
<text x="505.2" y="484.2" font-size="12" fill="#d4f434" textLength="23.2" lengthAdjust="spacingAndGlyphs">短买</text>
<text x="712.7" y="365" font-size="12" fill="#d4f434" textLength="23.2" lengthAdjust="spacingAndGlyphs">短买</text>
<text x="919.2" y="401.7" font-size="12" fill="#d4f434" textLength="23.2" lengthAdjust="spacingAndGlyphs">短买</text>
<text x="981.9" y="416.3" font-size="12" fill="#d4f434" textLength="23.2" lengthAdjust="spacingAndGlyphs">短买</text>
<text x="1084.2" y="390" font-size="12" fill="#d4f434" textLength="23.2" lengthAdjust="spacingAndGlyphs">短买</text>
<text x="1208.5" y="284.2" font-size="12" fill="#d4f434" textLength="23.2" lengthAdjust="spacingAndGlyphs">短买</text>
<text x="1415.2" y="259.2" font-size="12" fill="#d4f434" textLength="23.2" lengthAdjust="spacingAndGlyphs">短买</text>
<g shape-rendering="crispEdges">
<rect x="61" y="480" width="21" height="6" fill="url(#gp)"/>
<rect x="185" y="487" width="21" height="9" fill="url(#gp)"/>
<rect x="330" y="453" width="21" height="20" fill="url(#gp)"/>
<rect x="454" y="472" width="21" height="4" fill="url(#gp)"/>
<rect x="661" y="350" width="21" height="2" fill="url(#gp)"/>
<rect x="743" y="336" width="21" height="11" fill="url(#gp)"/>
<rect x="929" y="391" width="21" height="8" fill="url(#gp)"/>
<rect x="1053" y="370" width="21" height="15" fill="url(#gp)"/>
<rect x="1177" y="272" width="21" height="8" fill="url(#gp)"/>
<rect x="1322" y="203" width="21" height="14" fill="url(#gp)"/>
<rect x="1529" y="62" width="21" height="17" fill="url(#gp)"/>
</g>
<text x="72.2" y="488" font-size="12" fill="#ff98ff" textLength="23" lengthAdjust="spacingAndGlyphs">离场</text>
<text x="195.5" y="489.5" font-size="12" fill="#ff98ff" textLength="23" lengthAdjust="spacingAndGlyphs">离场</text>
<text x="340.5" y="455" font-size="12" fill="#ff98ff" textLength="23" lengthAdjust="spacingAndGlyphs">离场</text>
<text x="464.7" y="478" font-size="12" fill="#ff98ff" textLength="23" lengthAdjust="spacingAndGlyphs">离场</text>
<text x="672.2" y="352.5" font-size="12" fill="#ff98ff" textLength="23" lengthAdjust="spacingAndGlyphs">离场</text>
<text x="753.5" y="347.5" font-size="12" fill="#ff98ff" textLength="23" lengthAdjust="spacingAndGlyphs">离场</text>
<text x="940.2" y="394.2" font-size="12" fill="#ff98ff" textLength="23" lengthAdjust="spacingAndGlyphs">离场</text>
<text x="1063.5" y="385.5" font-size="12" fill="#ff98ff" textLength="23" lengthAdjust="spacingAndGlyphs">离场</text>
<text x="1188" y="275" font-size="12" fill="#ff98ff" textLength="23" lengthAdjust="spacingAndGlyphs">离场</text>
<text x="1333" y="205.800" font-size="12" fill="#ff98ff" textLength="23" lengthAdjust="spacingAndGlyphs">离场</text>
<text x="1540" y="65" font-size="12" fill="#ff98ff" textLength="23" lengthAdjust="spacingAndGlyphs">离场</text>
<polyline points="9.5,513 50,508.6 60,507.5 88.5,504.9 117,501.8 145.4,499.4 173.9,498.5 200,497.9 223,497.7 247,497 268,496.6 290,495.9 300,494.8 315,493 333,491.7 413,491.6 453,488.3 490,486.7 525,482.5 551,477.5 575,473.3 625.3,462.7 675.3,451.4 716,441.3 751.4,434 786.7,427.4 822,422.4 860,416.2 900,409.9 960,402 1020,394.3 1040,391 1080,383.7 1113.3,376.6 1146.7,370 1180,364.2 1213.3,357 1246.7,350 1280,343 1313.3,335.3 1346.7,328.7 1380,322.7 1400,318.6 1420,314.5 1440,307.5 1457.5,299.2 1487,284.2 1516.7,269.2 1560.8,248.3" fill="none" stroke="#ff0000" stroke-width="3" shape-rendering="crispEdges"/>
<g stroke="#e8e8e8" stroke-width="1" fill="none"><path d="M217.5 516.5H228M217.5 516.5l3-2.5M217.5 516.5l3 2.5"/><path d="M1518.5 28.5L1530 32.5M1518.5 28.5l4-0.5M1518.5 28.5l1.5 3.5"/></g>
<text x="229.5" y="520" font-size="12" fill="#e8e8e8" textLength="23" lengthAdjust="spacingAndGlyphs">3.42</text>
<text x="1533" y="38" font-size="12" fill="#e8e8e8" textLength="22.5" lengthAdjust="spacingAndGlyphs">7.15</text>
<path d="M9 678.5h11M20 677.5h10M30 677.5h11M41 676.5h10M51 676.5h6M57 675.5h10M67 674.5h4M71 674.5h21M92 674.5h11M103 675.5h10M113 675.5h11M124 676.5h9M133 676.5h3M136 677.5h5M141 678.5h6M147 679.5h5M152 680.5h2M154 680.5h4M158 681.5h7M165 682.5h7M172 683.5h3M175 683.5h4M179 684.5h7M186 685.5h6M192 686.5h3M195 686.5h21M216 686.5h11M227 685.5h10M237 685.5h4M241 686.5h7M248 687.5h6M254 688.5h3M257 688.5h4M261 689.5h7M268 690.5h7M275 691.5h3M278 691.5h3M281 692.5h5M286 693.5h6M292 694.5h5M297 695.5h2M299 695.5h4M303 696.5h7M310 697.5h6M316 698.5h3M319 698.5h6M325 699.5h10M335 700.5h5M340 700.5h11M351 701.5h10M361 701.5h11M372 702.5h9M381 702.5h4M385 701.5h7M392 700.5h7M399 699.5h3M402 699.5h3M405 698.5h5M410 697.5h6M416 696.5h5M421 695.5h2M423 695.5h3M426 694.5h5M431 693.5h5M436 692.5h5M441 691.5h2M443 691.5h4M447 690.5h7M454 689.5h7M461 688.5h3M464 688.5h4M468 687.5h7M475 686.5h7M482 685.5h3M485 685.5h3M488 684.5h5M493 683.5h5M498 682.5h5M503 681.5h2M505 681.5h3M508 680.5h4M512 679.5h4M516 678.5h4M520 677.5h4M524 676.5h2M526 676.5h2M528 675.5h4M532 674.5h3M535 673.5h4M539 672.5h3M542 671.5h4M546 670.5h1M547 670.5h3M550 669.5h5M555 668.5h5M560 667.5h5M565 666.5h2M567 666.5h3M570 665.5h5M575 664.5h6M581 663.5h5M586 662.5h2M588 662.5h2M590 661.5h4M594 660.5h3M597 659.5h4M601 658.5h3M604 657.5h4M608 656.5h1M609 656.5h2M611 655.5h4M615 654.5h3M618 653.5h3M621 652.5h4M625 651.5h3M628 650.5h1M629 650.5h4M633 649.5h7M640 648.5h7M647 647.5h3M650 647.5h11M661 646.5h10M671 646.5h20M691 646.5h6M697 647.5h10M707 648.5h5M712 648.5h3M715 649.5h5M720 650.5h6M726 651.5h5M731 652.5h2M733 652.5h3M736 653.5h4M740 654.5h4M744 655.5h4M748 656.5h4M752 657.5h1M753 657.5h3M756 658.5h4M760 659.5h4M764 660.5h4M768 661.5h4M772 662.5h2M774 662.5h3M777 663.5h4M781 664.5h4M785 665.5h4M789 666.5h4M793 667.5h2M795 667.5h3M798 668.5h5M803 669.5h5M808 670.5h5M813 671.5h2M815 671.5h3M818 672.5h4M822 673.5h4M826 674.5h4M830 675.5h4M834 676.5h2M836 676.5h2M838 677.5h3M841 678.5h3M844 679.5h3M847 680.5h3M850 681.5h3M853 682.5h3M856 683.5h1M857 683.5h2M859 684.5h3M862 685.5h3M865 686.5h3M868 687.5h2M870 688.5h3M873 689.5h3M876 690.5h1M877 690.5h2M879 691.5h3M882 692.5h3M885 693.5h3M888 694.5h3M891 695.5h3M894 696.5h3M897 697.5h1M898 697.5h3M901 698.5h4M905 699.5h4M909 700.5h4M913 701.5h4M917 702.5h2M919 702.5h4M923 703.5h7M930 704.5h6M936 705.5h3M939 705.5h6M945 706.5h10M955 707.5h5M960 707.5h21M981 707.5h6M987 706.5h10M997 705.5h4M1001 705.5h3M1004 704.5h4M1008 703.5h4M1012 702.5h4M1016 701.5h4M1020 700.5h2M1022 700.5h3M1025 699.5h4M1029 698.5h4M1033 697.5h4M1037 696.5h4M1041 695.5h2M1043 695.5h3M1046 694.5h4M1050 693.5h4M1054 692.5h4M1058 691.5h4M1062 690.5h1M1063 690.5h2M1065 689.5h4M1069 688.5h3M1072 687.5h4M1076 686.5h3M1079 685.5h4M1083 684.5h1M1084 684.5h2M1086 683.5h3M1089 682.5h3M1092 681.5h3M1095 680.5h3M1098 679.5h3M1101 678.5h3M1104 677.5h1M1105 677.5h2M1107 676.5h3M1110 675.5h3M1113 674.5h3M1116 673.5h2M1118 672.5h3M1121 671.5h3M1124 670.5h1M1125 670.5h2M1127 669.5h4M1131 668.5h3M1134 667.5h4M1138 666.5h3M1141 665.5h4M1145 664.5h1M1146 664.5h2M1148 663.5h4M1152 662.5h3M1155 661.5h4M1159 660.5h3M1162 659.5h4M1166 658.5h1M1167 658.5h3M1170 657.5h5M1175 656.5h5M1180 655.5h5M1185 654.5h2M1187 654.5h3M1190 653.5h5M1195 652.5h6M1201 651.5h5M1206 650.5h2M1208 650.5h4M1212 649.5h7M1219 648.5h7M1226 647.5h3M1229 647.5h6M1235 646.5h10M1245 645.5h5M1250 645.5h6M1256 646.5h10M1266 647.5h4M1270 647.5h4M1274 648.5h7M1281 649.5h7M1288 650.5h3M1291 650.5h6M1297 651.5h10M1307 652.5h5M1312 652.5h6M1318 653.5h10M1328 654.5h4M1332 654.5h21M1353 654.5h21M1374 654.5h11M1385 653.5h9M1394 653.5h11M1405 652.5h10M1415 652.5h21M1436 652.5h11M1447 653.5h9M1456 653.5h11M1467 654.5h10M1477 654.5h6M1483 653.5h10M1493 652.5h5M1498 652.5h6M1504 651.5h10M1514 650.5h4M1518 650.5h4M1522 649.5h7M1529 648.5h7M1536 647.5h3M1539 647.5h4M1543 646.5h7M1550 645.5h7M1557 644.5h4" fill="none" stroke="#ffffff" stroke-width="1" shape-rendering="crispEdges"/>
<path d="M9 695.5h6M15 694.5h10M25 693.5h5M30 693.5h6M36 692.5h10M46 691.5h5M51 691.5h6M57 690.5h10M67 689.5h4M71 689.5h11M82 688.5h10M92 688.5h6M98 687.5h10M108 686.5h5M113 686.5h11M124 685.5h9M133 685.5h21M154 685.5h21M175 685.5h20M195 685.5h21M216 685.5h21M237 685.5h20M257 685.5h11M268 686.5h10M278 686.5h11M289 687.5h10M299 687.5h11M310 688.5h9M319 688.5h6M325 689.5h10M335 690.5h5M340 690.5h11M351 691.5h10M361 691.5h11M372 692.5h9M381 692.5h11M392 693.5h10M402 693.5h21M423 693.5h11M434 692.5h9M443 692.5h21M464 692.5h21M485 692.5h6M491 691.5h10M501 690.5h4M505 690.5h6M511 689.5h10M521 688.5h5M526 688.5h6M532 687.5h10M542 686.5h5M547 686.5h6M553 685.5h10M563 684.5h4M567 684.5h6M573 683.5h10M583 682.5h5M588 682.5h6M594 681.5h10M604 680.5h5M609 680.5h3M612 679.5h5M617 678.5h5M622 677.5h5M627 676.5h2M629 676.5h4M633 675.5h7M640 674.5h7M647 673.5h3M650 673.5h6M656 672.5h10M666 671.5h5M671 671.5h4M675 670.5h7M682 669.5h6M688 668.5h3M691 668.5h6M697 667.5h10M707 666.5h5M712 666.5h6M718 665.5h10M728 664.5h5M733 664.5h11M744 663.5h9M753 663.5h21M774 663.5h11M785 664.5h10M795 664.5h11M806 665.5h9M815 665.5h6M821 666.5h10M831 667.5h5M836 667.5h4M840 668.5h7M847 669.5h7M854 670.5h3M857 670.5h4M861 671.5h7M868 672.5h6M874 673.5h3M877 673.5h4M881 674.5h7M888 675.5h7M895 676.5h3M898 676.5h4M902 677.5h7M909 678.5h7M916 679.5h3M919 679.5h4M923 680.5h7M930 681.5h6M936 682.5h3M939 682.5h6M945 683.5h10M955 684.5h5M960 684.5h6M966 685.5h10M976 686.5h5M981 686.5h11M992 687.5h9M1001 687.5h11M1012 688.5h10M1022 688.5h11M1033 689.5h10M1043 689.5h20M1063 689.5h21M1084 689.5h6M1090 688.5h10M1100 687.5h5M1105 687.5h6M1111 686.5h10M1121 685.5h4M1125 685.5h4M1129 684.5h7M1136 683.5h7M1143 682.5h3M1146 682.5h4M1150 681.5h7M1157 680.5h7M1164 679.5h3M1167 679.5h4M1171 678.5h7M1178 677.5h6M1184 676.5h3M1187 676.5h6M1193 675.5h10M1203 674.5h5M1208 674.5h6M1214 673.5h10M1224 672.5h5M1229 672.5h4M1233 671.5h7M1240 670.5h7M1247 669.5h3M1250 669.5h4M1254 668.5h7M1261 667.5h6M1267 666.5h3M1270 666.5h6M1276 665.5h10M1286 664.5h5M1291 664.5h11M1302 663.5h10M1312 663.5h11M1323 662.5h9M1332 662.5h11M1343 661.5h10M1353 661.5h11M1364 660.5h10M1374 660.5h11M1385 659.5h9M1394 659.5h11M1405 658.5h10M1415 658.5h21M1436 658.5h11M1447 657.5h9M1456 657.5h21M1477 657.5h11M1488 656.5h10M1498 656.5h11M1509 655.5h9M1518 655.5h21M1539 655.5h11M1550 654.5h11" fill="none" stroke="#00ffff" stroke-width="1" shape-rendering="crispEdges"/>
<path d="M9 734.5h2M11 733.5h2M13 732.5h2M15 731.5h3M18 730.5h2M20 729.5h2M22 728.5h3M25 727.5h2M27 726.5h2M29 725.5h1M30 725.5h2M32 724.5h2M34 723.5h3M37 722.5h3M40 721.5h2M42 720.5h3M45 719.5h3M48 718.5h2M50 717.5h1M51 717.5h2M53 716.5h4M57 715.5h3M60 714.5h3M63 713.5h4M67 712.5h3M70 711.5h1M71 711.5h4M75 710.5h7M82 709.5h7M89 708.5h3M92 708.5h6M98 707.5h10M108 706.5h5M113 706.5h2M115 705.5h3M118 704.5h3M121 703.5h3M124 702.5h2M126 701.5h3M129 700.5h3M132 699.5h1M133 699.5h3M136 700.5h5M141 701.5h6M147 702.5h5M152 703.5h2M154 703.5h6M160 704.5h10M170 705.5h5M175 705.5h1M176 706.5h2M178 707.5h2M180 708.5h1M181 709.5h2M183 710.5h2M185 711.5h1M186 712.5h2M188 713.5h2M190 714.5h1M191 715.5h2M193 716.5h2M195 717.5h2M197 718.5h2M199 719.5h3M202 720.5h3M205 721.5h2M207 722.5h3M210 723.5h3M213 724.5h2M215 725.5h1M216 725.5h2M218 726.5h3M221 727.5h3M224 728.5h3M227 729.5h3M230 730.5h3M233 731.5h3M236 732.5h1M237 732.5h2M239 733.5h4M243 734.5h3M246 735.5h3M249 736.5h4M253 737.5h3M256 738.5h1M257 738.5h2M259 739.5h2M261 740.5h3M264 741.5h3M267 742.5h2M269 743.5h3M272 744.5h3M275 745.5h2M277 746.5h1M278 746.5h2M280 745.5h3M283 744.5h3M286 743.5h3M289 742.5h3M292 741.5h3M295 740.5h3M298 739.5h1M299 739.5h1M300 738.5h2M302 737.5h1M303 736.5h2M305 735.5h1M306 734.5h1M307 733.5h2M309 732.5h1M310 731.5h2M312 730.5h1M313 729.5h2M315 728.5h1M316 727.5h1M317 726.5h2M319 725.5h2M321 724.5h2M323 723.5h2M325 722.5h3M328 721.5h2M330 720.5h2M332 719.5h3M335 718.5h2M337 717.5h2M339 716.5h1M340 716.5h6M346 715.5h10M356 714.5h5M361 714.5h6M367 715.5h10M377 716.5h4M381 716.5h3M384 717.5h4M388 718.5h4M392 719.5h4M396 720.5h4M400 721.5h2M402 721.5h6M408 722.5h10M418 723.5h5M423 723.5h20M443 723.5h3M446 724.5h4M450 725.5h4M454 726.5h4M458 727.5h4M462 728.5h2M464 728.5h1M465 729.5h2M467 730.5h2M469 731.5h2M471 732.5h2M473 733.5h2M475 734.5h2M477 735.5h2M479 736.5h2M481 737.5h2M483 738.5h2M485 739.5h2M487 738.5h2M489 737.5h2M491 736.5h2M493 735.5h2M495 734.5h2M497 733.5h2M499 732.5h2M501 731.5h2M503 730.5h2M505 729.5h1M506 728.5h2M508 727.5h1M509 726.5h2M511 725.5h1M512 724.5h2M514 723.5h1M515 722.5h2M517 721.5h1M518 720.5h2M520 719.5h1M521 718.5h2M523 717.5h1M524 716.5h2M526 715.5h1M527 714.5h2M529 713.5h2M531 712.5h2M533 711.5h1M534 710.5h2M536 709.5h2M538 708.5h2M540 707.5h1M541 706.5h2M543 705.5h2M545 704.5h2M547 703.5h1M548 702.5h2M550 701.5h1M551 700.5h2M553 699.5h1M554 698.5h2M556 697.5h2M558 696.5h1M559 695.5h2M561 694.5h1M562 693.5h2M564 692.5h1M565 691.5h2M567 690.5h1M568 689.5h2M570 688.5h2M572 687.5h1M573 686.5h2M575 685.5h1M576 684.5h2M578 683.5h2M580 682.5h1M581 681.5h2M583 680.5h1M584 679.5h2M586 678.5h2M588 677.5h2M590 676.5h3M593 675.5h3M596 674.5h3M599 673.5h3M602 672.5h3M605 671.5h3M608 670.5h1M609 670.5h2M611 669.5h3M614 668.5h3M617 667.5h3M620 666.5h2M622 665.5h3M625 664.5h3M628 663.5h1M629 663.5h4M633 662.5h7M640 661.5h7M647 660.5h3M650 660.5h11M661 661.5h10M671 661.5h4M675 662.5h7M682 663.5h6M688 664.5h3M691 664.5h11M702 663.5h10M712 663.5h21M733 663.5h4M737 664.5h7M744 665.5h6M750 666.5h3M753 666.5h1M754 667.5h2M756 668.5h2M758 669.5h1M759 670.5h2M761 671.5h1M762 672.5h2M764 673.5h2M766 674.5h1M767 675.5h2M769 676.5h1M770 677.5h2M772 678.5h2M774 679.5h1M775 680.5h1M776 681.5h1M777 682.5h2M779 683.5h1M780 684.5h1M781 685.5h1M782 686.5h1M783 687.5h1M784 688.5h2M786 689.5h1M787 690.5h1M788 691.5h1M789 692.5h1M790 693.5h1M791 694.5h2M793 695.5h1M794 696.5h1M795.5 697v1M796.5 698v1M797.5 699v2M798.5 701v1M799.5 702v1M800.5 703v1M801.5 704v2M802.5 706v1M803.5 707v1M804.5 708v1M805.5 709v2M806.5 711v1M807.5 712v1M808.5 713v1M809.5 714v2M810.5 716v1M811.5 717v1M812.5 718v1M813.5 719v2M814.5 721v1M815.5 722v1M816.5 723v1M817.5 724v1M818.5 725v1M819.5 726v1M820.5 727v2M821.5 729v1M822.5 730v1M823.5 731v1M824.5 732v1M825.5 733v1M826.5 734v1M827.5 735v1M828.5 736v1M829.5 737v1M830.5 738v1M831.5 739v2M832.5 741v1M833.5 742v1M834.5 743v1M835.5 744v1M836 745.5h1M837 746.5h1M838 747.5h1M839 748.5h1M840 749.5h1M841 750.5h2M843 751.5h1M844 752.5h1M845 753.5h1M846 754.5h1M847 755.5h1M848 756.5h1M849 757.5h1M850 758.5h1M851 759.5h2M853 760.5h1M854 761.5h1M855 762.5h1M856 763.5h1M857 764.5h1M858 765.5h1M859 766.5h1M860 767.5h2M862 768.5h1M863 769.5h1M864 770.5h1M865 771.5h1M866 772.5h2M868 773.5h1M869 774.5h1M870 775.5h1M871 776.5h1M872 777.5h1M873 778.5h2M875 779.5h1M876 780.5h1M877 781.5h1M878 782.5h2M880 783.5h2M882 784.5h2M884 785.5h1M885 786.5h2M887 787.5h2M889 788.5h2M891 789.5h1M892 790.5h2M894 791.5h2M896 792.5h2M898 793.5h2M900 794.5h4M904 795.5h3M907 796.5h4M911 797.5h3M914 798.5h4M918 799.5h1M919 799.5h6M925 800.5h10M935 801.5h4M939 801.5h4M943 802.5h7M950 803.5h7M957 804.5h3M960 804.5h2M962 803.5h4M966 802.5h3M969 801.5h4M973 800.5h3M976 799.5h4M980 798.5h1M981 798.5h1M982 797.5h1M983 796.5h1M984 795.5h1M985 794.5h2M987 793.5h1M988 792.5h1M989 791.5h1M990 790.5h1M991 789.5h1M992 788.5h1M993 787.5h1M994 786.5h1M995 785.5h2M997 784.5h1M998 783.5h1M999 782.5h1M1000 781.5h1M1001 780.5h1M1002 779.5h1M1003 778.5h1M1004 777.5h1M1005 776.5h1M1006 775.5h1M1007 774.5h1M1008 773.5h1M1009 772.5h1M1010 771.5h1M1011 770.5h2M1013 769.5h1M1014 768.5h1M1015 767.5h1M1016 766.5h1M1017 765.5h1M1018 764.5h1M1019 763.5h1M1020 762.5h1M1021 761.5h1M1022 760.5h1M1023 759.5h2M1025 758.5h1M1026 757.5h2M1028 756.5h1M1029 755.5h2M1031 754.5h1M1032 753.5h2M1034 752.5h1M1035 751.5h2M1037 750.5h1M1038 749.5h2M1040 748.5h1M1041 747.5h2M1043 746.5h2M1045 745.5h2M1047 744.5h2M1049 743.5h2M1051 742.5h3M1054 741.5h2M1056 740.5h2M1058 739.5h2M1060 738.5h2M1062 737.5h1M1063 737.5h1M1064 736.5h2M1066 735.5h2M1068 734.5h2M1070 733.5h1M1071 732.5h2M1073 731.5h2M1075 730.5h2M1077 729.5h1M1078 728.5h2M1080 727.5h2M1082 726.5h2M1084 725.5h1M1085 724.5h2M1087 723.5h1M1088 722.5h1M1089 721.5h2M1091 720.5h1M1092 719.5h2M1094 718.5h1M1095 717.5h1M1096 716.5h2M1098 715.5h1M1099 714.5h2M1101 713.5h1M1102 712.5h1M1103 711.5h2M1105 710.5h1M1106 709.5h1M1107 708.5h1M1108 707.5h2M1110 706.5h1M1111 705.5h1M1112 704.5h1M1113 703.5h1M1114 702.5h2M1116 701.5h1M1117 700.5h1M1118 699.5h1M1119 698.5h1M1120 697.5h1M1121 696.5h2M1123 695.5h1M1124 694.5h1M1125 693.5h1M1126 692.5h2M1128 691.5h1M1129 690.5h2M1131 689.5h1M1132 688.5h2M1134 687.5h1M1135 686.5h2M1137 685.5h1M1138 684.5h2M1140 683.5h1M1141 682.5h2M1143 681.5h1M1144 680.5h2M1146 679.5h1M1147 678.5h2M1149 677.5h2M1151 676.5h2M1153 675.5h2M1155 674.5h2M1157 673.5h2M1159 672.5h2M1161 671.5h2M1163 670.5h2M1165 669.5h2M1167 668.5h2M1169 667.5h4M1173 666.5h3M1176 665.5h3M1179 664.5h4M1183 663.5h3M1186 662.5h1M1187 662.5h2M1189 661.5h2M1191 660.5h2M1193 659.5h3M1196 658.5h2M1198 657.5h2M1200 656.5h3M1203 655.5h2M1205 654.5h2M1207 653.5h1M1208 653.5h6M1214 652.5h10M1224 651.5h5M1229 651.5h6M1235 650.5h10M1245 649.5h5M1250 649.5h6M1256 650.5h10M1266 651.5h4M1270 651.5h21M1291 651.5h11M1302 652.5h10M1312 652.5h2M1314 653.5h3M1317 654.5h3M1320 655.5h3M1323 656.5h2M1325 657.5h3M1328 658.5h3M1331 659.5h1M1332 659.5h1M1333 660.5h2M1335 661.5h2M1337 662.5h2M1339 663.5h2M1341 664.5h2M1343 665.5h2M1345 666.5h2M1347 667.5h2M1349 668.5h2M1351 669.5h2M1353 670.5h1M1354 671.5h2M1356 672.5h1M1357 673.5h1M1358 674.5h2M1360 675.5h1M1361 676.5h2M1363 677.5h1M1364 678.5h1M1365 679.5h2M1367 680.5h1M1368 681.5h2M1370 682.5h1M1371 683.5h1M1372 684.5h2M1374.5 685v1M1375.5 686v1M1376.5 687v1M1377.5 688v1M1378.5 689v1M1379.5 690v1M1380.5 691v1M1381.5 692v1M1382.5 693v1M1383.5 694v1M1384.5 695v2M1385.5 697v1M1386.5 698v1M1387.5 699v1M1388.5 700v1M1389.5 701v1M1390.5 702v1M1391.5 703v1M1392.5 704v1M1393.5 705v1M1394 706.5h1M1395 707.5h2M1397 708.5h2M1399 709.5h1M1400 710.5h2M1402 711.5h1M1403 712.5h2M1405 713.5h2M1407 714.5h1M1408 715.5h2M1410 716.5h1M1411 717.5h2M1413 718.5h2M1415 719.5h21M1436 719.5h1M1437 718.5h2M1439 717.5h2M1441 716.5h2M1443 715.5h2M1445 714.5h2M1447 713.5h1M1448 712.5h2M1450 711.5h2M1452 710.5h2M1454 709.5h2M1456 708.5h1M1457 707.5h1M1458 706.5h2M1460 705.5h1M1461 704.5h1M1462 703.5h1M1463 702.5h2M1465 701.5h1M1466 700.5h1M1467 699.5h1M1468 698.5h1M1469 697.5h2M1471 696.5h1M1472 695.5h1M1473 694.5h1M1474 693.5h2M1476 692.5h1M1477 691.5h1M1478 690.5h2M1480 689.5h2M1482 688.5h2M1484 687.5h1M1485 686.5h2M1487 685.5h2M1489 684.5h2M1491 683.5h1M1492 682.5h2M1494 681.5h2M1496 680.5h2M1498 679.5h2M1500 678.5h2M1502 677.5h2M1504 676.5h2M1506 675.5h3M1509 674.5h2M1511 673.5h2M1513 672.5h2M1515 671.5h2M1517 670.5h1M1518 670.5h6M1524 669.5h10M1534 668.5h5M1539 668.5h6M1545 669.5h10M1555 670.5h6" fill="none" stroke="#ffff00" stroke-width="1" shape-rendering="crispEdges"/>
<path d="M9.5 729v1M10.5 728v1M11.5 727v1M12.5 726v1M13.5 725v1M14.5 723v2M15.5 722v1M16.5 721v1M17.5 720v1M18.5 719v1M19.5 718v1M20.5 717v1M21.5 716v1M22.5 715v1M23.5 714v1M24.5 713v1M25.5 711v2M26.5 710v1M27.5 709v1M28.5 708v1M29.5 707v1M30 706.5h3M33 705.5h4M37 704.5h4M41 703.5h4M45 702.5h4M49 701.5h2M51 701.5h6M57 700.5h10M67 699.5h4M71 699.5h4M75 700.5h7M82 701.5h7M89 702.5h3M92 702.5h21M113 702.5h1M114 701.5h1M115 700.5h2M117 699.5h1M118 698.5h1M119 697.5h1M120 696.5h2M122 695.5h1M123 694.5h1M124 693.5h1M125 692.5h2M127 691.5h1M128 690.5h1M129 689.5h1M130 688.5h2M132 687.5h1M133.5 686v1M134.5 687v1M135.5 688v1M136.5 689v2M137.5 691v1M138.5 692v1M139.5 693v1M140.5 694v1M141.5 695v1M142.5 696v1M143.5 697v2M144.5 699v1M145.5 700v1M146.5 701v1M147.5 702v1M148.5 703v1M149.5 704v1M150.5 705v2M151.5 707v1M152.5 708v1M153.5 709v1M154 710.5h6M160 709.5h10M170 708.5h5M175.5 708v1M176.5 709v2M177.5 711v2M178.5 713v1M179.5 714v2M180.5 716v1M181.5 717v2M182.5 719v2M183.5 721v1M184.5 722v2M185.5 724v1M186.5 725v2M187.5 727v2M188.5 729v1M189.5 730v2M190.5 732v1M191.5 733v2M192.5 735v2M193.5 737v1M194.5 738v2M195 740.5h11M206 741.5h10M216 741.5h2M218 742.5h4M222 743.5h3M225 744.5h4M229 745.5h3M232 746.5h4M236 747.5h1M237 747.5h3M240 748.5h5M245 749.5h5M250 750.5h5M255 751.5h2M257 751.5h2M259 752.5h2M261 753.5h2M263 754.5h2M265 755.5h2M267 756.5h2M269 757.5h2M271 758.5h2M273 759.5h2M275 760.5h2M277 761.5h1M278.5 761v1M279.5 759v2M280.5 758v1M281.5 756v2M282.5 755v1M283.5 753v2M284.5 752v1M285.5 750v2M286.5 749v1M287.5 747v2M288.5 746v1M289.5 745v1M290.5 743v2M291.5 742v1M292.5 740v2M293.5 739v1M294.5 737v2M295.5 736v1M296.5 734v2M297.5 733v1M298.5 731v2M299.5 730v1M300.5 728v2M301.5 726v2M302.5 724v2M303.5 723v1M304.5 721v2M305.5 719v2M306.5 717v2M307.5 716v1M308.5 714v2M309.5 712v2M310.5 710v2M311.5 709v1M312.5 707v2M313.5 705v2M314.5 703v2M315.5 702v1M316.5 700v2M317.5 698v2M318.5 696v2M319 695.5h3M322 696.5h4M326 697.5h4M330 698.5h4M334 699.5h4M338 700.5h2M340 700.5h2M342 701.5h2M344 702.5h3M347 703.5h3M350 704.5h2M352 705.5h3M355 706.5h3M358 707.5h2M360 708.5h1M361 708.5h1M362 709.5h2M364 710.5h2M366 711.5h1M367 712.5h2M369 713.5h2M371 714.5h1M372 715.5h2M374 716.5h2M376 717.5h1M377 718.5h2M379 719.5h2M381 720.5h1M382 721.5h2M384 722.5h2M386 723.5h1M387 724.5h2M389 725.5h1M390 726.5h2M392 727.5h2M394 728.5h1M395 729.5h2M397 730.5h1M398 731.5h2M400 732.5h2M402 733.5h2M404 732.5h3M407 731.5h3M410 730.5h3M413 729.5h3M416 728.5h3M419 727.5h3M422 726.5h1M423 726.5h11M434 725.5h9M443 725.5h1M444 726.5h2M446 727.5h2M448 728.5h2M450 729.5h1M451 730.5h2M453 731.5h2M455 732.5h2M457 733.5h1M458 734.5h2M460 735.5h2M462 736.5h2M464.5 737v1M465.5 738v1M466.5 739v1M467.5 740v1M468.5 741v1M469.5 742v2M470.5 744v1M471.5 745v1M472.5 746v1M473.5 747v1M474.5 748v1M475.5 749v1M476.5 750v1M477.5 751v1M478.5 752v1M479.5 753v1M480.5 754v2M481.5 756v1M482.5 757v1M483.5 758v1M484.5 759v1M485.5 759v2M486.5 757v2M487.5 754v3M488.5 752v2M489.5 749v3M490.5 747v2M491.5 745v2M492.5 742v3M493.5 740v2M494.5 737v3M495.5 735v2M496.5 732v3M497.5 730v2M498.5 727v3M499.5 725v2M500.5 723v2M501.5 720v3M502.5 718v2M503.5 715v3M504.5 713v2M505.5 712v1M505.5 711v1M506.5 710v1M507.5 709v1M508.5 707v2M509.5 706v1M510.5 705v1M511.5 704v1M512.5 703v1M513.5 701v2M514.5 700v1M515.5 699v1M516.5 698v1M517.5 697v1M518.5 695v2M519.5 694v1M520.5 693v1M521.5 692v1M522.5 691v1M523.5 689v2M524.5 688v1M525.5 687v1M526 686.5h3M529 685.5h4M533 684.5h4M537 683.5h4M541 682.5h4M545 681.5h2M547 681.5h1M548 680.5h1M549 679.5h1M550 678.5h1M551 677.5h2M553 676.5h1M554 675.5h1M555 674.5h1M556 673.5h1M557 672.5h1M558 671.5h1M559 670.5h1M560 669.5h1M561 668.5h2M563 667.5h1M564 666.5h1M565 665.5h1M566 664.5h1M567 663.5h2M569 662.5h2M571 661.5h2M573 660.5h2M575 659.5h2M577 658.5h2M579 657.5h2M581 656.5h2M583 655.5h2M585 654.5h2M587 653.5h1M588 653.5h11M599 654.5h10M609 654.5h4M613 653.5h7M620 652.5h6M626 651.5h3M629 651.5h11M640 650.5h10M650 650.5h1M651 651.5h2M653 652.5h2M655 653.5h2M657 654.5h1M658 655.5h2M660 656.5h2M662 657.5h2M664 658.5h1M665 659.5h2M667 660.5h2M669 661.5h2M671 662.5h2M673 663.5h2M675 664.5h2M677 665.5h2M679 666.5h3M682 667.5h2M684 668.5h2M686 669.5h2M688 670.5h2M690 671.5h1M691 671.5h1M692 670.5h2M694 669.5h2M696 668.5h2M698 667.5h2M700 666.5h2M702 665.5h2M704 664.5h2M706 663.5h2M708 662.5h2M710 661.5h2M712 660.5h3M715 661.5h4M719 662.5h4M723 663.5h4M727 664.5h4M731 665.5h2M733 665.5h2M735 666.5h2M737 667.5h3M740 668.5h2M742 669.5h3M745 670.5h2M747 671.5h3M750 672.5h2M752 673.5h1M753.5 673v1M754.5 674v2M755.5 676v1M756.5 677v2M757.5 679v2M758.5 681v1M759.5 682v2M760.5 684v1M761.5 685v2M762.5 687v1M763.5 688v2M764.5 690v2M765.5 692v1M766.5 693v2M767.5 695v1M768.5 696v2M769.5 698v1M770.5 699v2M771.5 701v2M772.5 703v1M773.5 704v2M774.5 706v1M775.5 707v2M776.5 709v1M777.5 710v2M778.5 712v1M779.5 713v2M780.5 715v1M781.5 716v2M782.5 718v1M783.5 719v2M784.5 721v1M785.5 722v1M786.5 723v2M787.5 725v1M788.5 726v2M789.5 728v1M790.5 729v2M791.5 731v1M792.5 732v2M793.5 734v1M794.5 735v2M795.5 737v1M796.5 738v2M797.5 740v2M798.5 742v2M799.5 744v2M800.5 746v1M801.5 747v2M802.5 749v2M803.5 751v2M804.5 753v2M805.5 755v1M806.5 756v2M807.5 758v2M808.5 760v2M809.5 762v2M810.5 764v1M811.5 765v2M812.5 767v2M813.5 769v2M814.5 771v2M815 773.5h1M816 774.5h1M817 775.5h2M819 776.5h1M820 777.5h1M821 778.5h2M823 779.5h1M824 780.5h1M825 781.5h2M827 782.5h1M828 783.5h1M829 784.5h2M831 785.5h1M832 786.5h1M833 787.5h2M835 788.5h1M836 789.5h1M837 790.5h2M839 791.5h2M841 792.5h2M843 793.5h1M844 794.5h2M846 795.5h2M848 796.5h2M850 797.5h1M851 798.5h2M853 799.5h2M855 800.5h2M857 801.5h1M858 802.5h2M860 803.5h2M862 804.5h1M863 805.5h2M865 806.5h2M867 807.5h1M868 808.5h2M870 809.5h2M872 810.5h1M873 811.5h2M875 812.5h2M877 813.5h2M879 814.5h4M883 815.5h3M886 816.5h4M890 817.5h3M893 818.5h4M897 819.5h1M898 819.5h2M900 818.5h2M902 817.5h2M904 816.5h2M906 815.5h2M908 814.5h2M910 813.5h2M912 812.5h2M914 811.5h2M916 810.5h2M918 809.5h1M919 809.5h4M923 808.5h7M930 807.5h6M936 806.5h3M939 806.5h3M942 807.5h4M946 808.5h4M950 809.5h4M954 810.5h4M958 811.5h2M960.5 811v1M961.5 810v1M962.5 808v2M963.5 807v1M964.5 806v1M965.5 804v2M966.5 803v1M967.5 802v1M968.5 801v1M969.5 799v2M970.5 798v1M971.5 797v1M972.5 795v2M973.5 794v1M974.5 793v1M975.5 792v1M976.5 790v2M977.5 789v1M978.5 788v1M979.5 786v2M980.5 785v1M981.5 784v1M982.5 782v2M983.5 780v2M984.5 778v2M985.5 776v2M986.5 774v2M987.5 772v2M988.5 770v2M989.5 768v2M990.5 766v2M991.5 765v1M992.5 763v2M993.5 761v2M994.5 759v2M995.5 757v2M996.5 755v2M997.5 753v2M998.5 751v2M999.5 749v2M1000.5 747v2M1001.5 746v1M1002.5 745v1M1003.5 743v2M1004.5 742v1M1005.5 741v1M1006.5 739v2M1007.5 738v1M1008.5 737v1M1009.5 736v1M1010.5 734v2M1011.5 733v1M1012.5 732v1M1013.5 730v2M1014.5 729v1M1015.5 728v1M1016.5 727v1M1017.5 725v2M1018.5 724v1M1019.5 723v1M1020.5 721v2M1021.5 720v1M1022 719.5h4M1026 718.5h7M1033 717.5h7M1040 716.5h3M1043 716.5h6M1049 717.5h10M1059 718.5h4M1063 718.5h1M1064 717.5h1M1065 716.5h1M1066 715.5h1M1067 714.5h1M1068 713.5h1M1069 712.5h1M1070 711.5h1M1071 710.5h1M1072 709.5h1M1073 708.5h2M1075 707.5h1M1076 706.5h1M1077 705.5h1M1078 704.5h1M1079 703.5h1M1080 702.5h1M1081 701.5h1M1082 700.5h1M1083 699.5h1M1084 698.5h1M1085 697.5h1M1086 696.5h2M1088 695.5h1M1089 694.5h1M1090 693.5h1M1091 692.5h2M1093 691.5h1M1094 690.5h1M1095 689.5h1M1096 688.5h1M1097 687.5h2M1099 686.5h1M1100 685.5h1M1101 684.5h1M1102 683.5h2M1104 682.5h1M1105 681.5h1M1106 680.5h1M1107 679.5h1M1108 678.5h1M1109 677.5h2M1111 676.5h1M1112 675.5h1M1113 674.5h1M1114 673.5h1M1115 672.5h1M1116 671.5h1M1117 670.5h1M1118 669.5h1M1119 668.5h2M1121 667.5h1M1122 666.5h1M1123 665.5h1M1124 664.5h1M1125 663.5h1M1126 662.5h2M1128 661.5h2M1130 660.5h2M1132 659.5h1M1133 658.5h2M1135 657.5h2M1137 656.5h2M1139 655.5h1M1140 654.5h2M1142 653.5h2M1144 652.5h2M1146 651.5h3M1149 650.5h4M1153 649.5h4M1157 648.5h4M1161 647.5h4M1165 646.5h2M1167 646.5h6M1173 647.5h10M1183 648.5h4M1187 648.5h1M1188 647.5h2M1190 646.5h2M1192 645.5h2M1194 644.5h1M1195 643.5h2M1197 642.5h2M1199 641.5h2M1201 640.5h1M1202 639.5h2M1204 638.5h2M1206 637.5h2M1208 636.5h2M1210 637.5h2M1212 638.5h2M1214 639.5h2M1216 640.5h2M1218 641.5h2M1220 642.5h2M1222 643.5h2M1224 644.5h2M1226 645.5h2M1228 646.5h1M1229 646.5h11M1240 645.5h10M1250 645.5h1M1251 646.5h2M1253 647.5h2M1255 648.5h2M1257 649.5h2M1259 650.5h2M1261 651.5h1M1262 652.5h2M1264 653.5h2M1266 654.5h2M1268 655.5h2M1270 656.5h2M1272 655.5h4M1276 654.5h3M1279 653.5h4M1283 652.5h3M1286 651.5h4M1290 650.5h1M1291 650.5h3M1294 651.5h4M1298 652.5h4M1302 653.5h4M1306 654.5h4M1310 655.5h2M1312 655.5h1M1313 656.5h1M1314 657.5h1M1315 658.5h2M1317 659.5h1M1318 660.5h1M1319 661.5h1M1320 662.5h1M1321 663.5h2M1323 664.5h1M1324 665.5h1M1325 666.5h1M1326 667.5h1M1327 668.5h1M1328 669.5h2M1330 670.5h1M1331 671.5h1M1332 672.5h1M1333 673.5h1M1334 674.5h1M1335 675.5h1M1336 676.5h1M1337 677.5h2M1339 678.5h1M1340 679.5h1M1341 680.5h1M1342 681.5h1M1343 682.5h1M1344 683.5h1M1345 684.5h1M1346 685.5h1M1347 686.5h2M1349 687.5h1M1350 688.5h1M1351 689.5h1M1352 690.5h1M1353.5 691v1M1354.5 692v1M1355.5 693v1M1356.5 694v2M1357.5 696v1M1358.5 697v1M1359.5 698v1M1360.5 699v1M1361.5 700v2M1362.5 702v1M1363.5 703v1M1364.5 704v1M1365.5 705v1M1366.5 706v2M1367.5 708v1M1368.5 709v1M1369.5 710v1M1370.5 711v1M1371.5 712v2M1372.5 714v1M1373.5 715v1M1374.5 716v1M1375.5 717v2M1376.5 719v2M1377.5 721v1M1378.5 722v2M1379.5 724v1M1380.5 725v2M1381.5 727v2M1382.5 729v1M1383.5 730v2M1384.5 732v1M1385.5 733v2M1386.5 735v2M1387.5 737v1M1388.5 738v2M1389.5 740v1M1390.5 741v2M1391.5 743v2M1392.5 745v1M1393.5 746v2M1394 748.5h4M1398 747.5h7M1405 746.5h7M1412 745.5h3M1415.5 745v1M1416.5 744v1M1417.5 743v1M1418.5 741v2M1419.5 740v1M1420.5 739v1M1421.5 738v1M1422.5 737v1M1423.5 735v2M1424.5 734v1M1425.5 733v1M1426.5 732v1M1427.5 731v1M1428.5 729v2M1429.5 728v1M1430.5 727v1M1431.5 726v1M1432.5 725v1M1433.5 723v2M1434.5 722v1M1435.5 721v1M1436.5 720v1M1437.5 718v2M1438.5 716v2M1439.5 715v1M1440.5 713v2M1441.5 712v1M1442.5 710v2M1443.5 708v2M1444.5 707v1M1445.5 705v2M1446.5 704v1M1447.5 702v2M1448.5 700v2M1449.5 699v1M1450.5 697v2M1451.5 696v1M1452.5 694v2M1453.5 692v2M1454.5 691v1M1455.5 689v2M1456.5 688v1M1457.5 687v1M1458.5 685v2M1459.5 684v1M1460.5 683v1M1461.5 682v1M1462.5 680v2M1463.5 679v1M1464.5 678v1M1465.5 677v1M1466.5 675v2M1467.5 674v1M1468.5 673v1M1469.5 672v1M1470.5 671v1M1471.5 669v2M1472.5 668v1M1473.5 667v1M1474.5 666v1M1475.5 664v2M1476.5 663v1M1477 662.5h2M1479 661.5h3M1482 660.5h3M1485 659.5h3M1488 658.5h3M1491 657.5h3M1494 656.5h3M1497 655.5h1M1498 655.5h4M1502 654.5h7M1509 653.5h6M1515 652.5h3M1518 652.5h1M1519 653.5h2M1521 654.5h2M1523 655.5h2M1525 656.5h2M1527 657.5h2M1529 658.5h2M1531 659.5h2M1533 660.5h2M1535 661.5h2M1537 662.5h2M1539 663.5h1M1540 664.5h2M1542 665.5h2M1544 666.5h2M1546 667.5h2M1548 668.5h2M1550 669.5h2M1552 670.5h2M1554 671.5h2M1556 672.5h2M1558 673.5h2M1560 674.5h1" fill="none" stroke="#ffffff" stroke-width="1" shape-rendering="crispEdges"/>
<path d="M9.5 716v2M10.5 714v2M11.5 712v2M12.5 710v2M13.5 708v2M14.5 705v3M15.5 703v2M16.5 701v2M17.5 699v2M18.5 697v2M19.5 694v3M20.5 692v2M21.5 690v2M22.5 688v2M23.5 686v2M24.5 684v2M25.5 681v3M26.5 679v2M27.5 677v2M28.5 675v2M29.5 673v2M30.5 672v1M30 671.5h4M34 670.5h7M41 669.5h7M48 668.5h3M51 668.5h2M53 669.5h3M56 670.5h3M59 671.5h3M62 672.5h2M64 673.5h3M67 674.5h3M70 675.5h1M71 675.5h1M72 676.5h2M74 677.5h1M75 678.5h2M77 679.5h1M78 680.5h2M80 681.5h1M81 682.5h2M83 683.5h1M84 684.5h2M86 685.5h1M87 686.5h2M89 687.5h1M90 688.5h2M92 689.5h3M95 690.5h4M99 691.5h4M103 692.5h4M107 693.5h4M111 694.5h2M113.5 694v1M114.5 692v2M115.5 690v2M116.5 689v1M117.5 687v2M118.5 685v2M119.5 683v2M120.5 682v1M121.5 680v2M122.5 678v2M123.5 677v1M124.5 675v2M125.5 673v2M126.5 672v1M127.5 670v2M128.5 668v2M129.5 666v2M130.5 665v1M131.5 663v2M132.5 661v2M133.5 660v2M134.5 662v3M135.5 665v3M136.5 668v3M137.5 671v3M138.5 674v4M139.5 678v3M140.5 681v3M141.5 684v3M142.5 687v3M143.5 690v3M144.5 693v3M145.5 696v3M146.5 699v3M147.5 702v3M148.5 705v3M149.5 708v4M150.5 712v3M151.5 715v3M152.5 718v3M153.5 721v3M154.5 724v1M154 725.5h2M156 724.5h2M158 723.5h2M160 722.5h2M162 721.5h2M164 720.5h2M166 719.5h2M168 718.5h2M170 717.5h2M172 716.5h2M174 715.5h1M175.5 715v2M176.5 717v4M177.5 721v4M178.5 725v3M179.5 728v4M180.5 732v3M181.5 735v4M182.5 739v4M183.5 743v3M184.5 746v4M185.5 750v3M186.5 753v4M187.5 757v4M188.5 761v3M189.5 764v4M190.5 768v3M191.5 771v4M192.5 775v4M193.5 779v3M194.5 782v4M195.5 786v1M195 787.5h1M196 786.5h2M198 785.5h2M200 784.5h1M201 783.5h2M203 782.5h1M204 781.5h2M206 780.5h2M208 779.5h1M209 778.5h2M211 777.5h1M212 776.5h2M214 775.5h2M216 774.5h4M220 775.5h7M227 776.5h7M234 777.5h3M237 777.5h11M248 776.5h9M257 776.5h1M258 777.5h1M259 778.5h2M261 779.5h1M262 780.5h1M263 781.5h2M265 782.5h1M266 783.5h1M267 784.5h2M269 785.5h1M270 786.5h1M271 787.5h2M273 788.5h1M274 789.5h1M275 790.5h2M277 791.5h1M278.5 790v3M279.5 786v4M280.5 781v5M281.5 776v5M282.5 772v4M283.5 767v5M284.5 763v4M285.5 758v5M286.5 754v4M287.5 749v5M288.5 744v5M289.5 740v4M290.5 735v5M291.5 731v4M292.5 726v5M293.5 722v4M294.5 717v5M295.5 712v5M296.5 708v4M297.5 703v5M298.5 699v4M299.5 697v2M299.5 695v2M300.5 692v3M301.5 689v3M302.5 686v3M303.5 683v3M304.5 680v3M305.5 677v3M306.5 674v3M307.5 671v3M308.5 668v3M309.5 666v2M310.5 663v3M311.5 660v3M312.5 657v3M313.5 654v3M314.5 651v3M315.5 648v3M316.5 645v3M317.5 642v3M318.5 639v3M319.5 638v1M319.5 637v1M320.5 638v2M321.5 640v1M322.5 641v2M323.5 643v2M324.5 645v1M325.5 646v2M326.5 648v1M327.5 649v2M328.5 651v1M329.5 652v2M330.5 654v2M331.5 656v1M332.5 657v2M333.5 659v1M334.5 660v2M335.5 662v1M336.5 663v2M337.5 665v2M338.5 667v1M339.5 668v2M340.5 670v1M341.5 671v2M342.5 673v1M343.5 674v2M344.5 676v1M345.5 677v2M346.5 679v1M347.5 680v2M348.5 682v1M349.5 683v2M350.5 685v1M351.5 686v1M352.5 687v2M353.5 689v1M354.5 690v2M355.5 692v1M356.5 693v2M357.5 695v1M358.5 696v2M359.5 698v1M360.5 699v2M361.5 701v1M362.5 702v2M363.5 704v1M364.5 705v1M365.5 706v2M366.5 708v1M367.5 709v1M368.5 710v2M369.5 712v1M370.5 713v1M371.5 714v2M372.5 716v1M373.5 717v1M374.5 718v2M375.5 720v1M376.5 721v1M377.5 722v2M378.5 724v1M379.5 725v1M380.5 726v2M381.5 728v1M382.5 729v2M383.5 731v1M384.5 732v1M385.5 733v2M386.5 735v1M387.5 736v1M388.5 737v2M389.5 739v1M390.5 740v1M391.5 741v2M392.5 743v1M393.5 744v1M394.5 745v2M395.5 747v1M396.5 748v1M397.5 749v2M398.5 751v1M399.5 752v1M400.5 753v2M401.5 755v1M402.5 756v1M403.5 755v1M404.5 754v1M405.5 752v2M406.5 751v1M407.5 750v1M408.5 749v1M409.5 748v1M410.5 746v2M411.5 745v1M412.5 744v1M413.5 743v1M414.5 742v1M415.5 740v2M416.5 739v1M417.5 738v1M418.5 737v1M419.5 736v1M420.5 734v2M421.5 733v1M422.5 732v1M423 731.5h3M426 730.5h4M430 729.5h4M434 728.5h4M438 727.5h4M442 726.5h1M443.5 726v1M444.5 727v2M445.5 729v1M446.5 730v1M447.5 731v2M448.5 733v1M449.5 734v1M450.5 735v2M451.5 737v1M452.5 738v1M453.5 739v2M454.5 741v1M455.5 742v1M456.5 743v2M457.5 745v1M458.5 746v1M459.5 747v2M460.5 749v1M461.5 750v1M462.5 751v2M463.5 753v1M464.5 754v2M465.5 756v2M466.5 758v2M467.5 760v3M468.5 763v2M469.5 765v2M470.5 767v3M471.5 770v2M472.5 772v2M473.5 774v3M474.5 777v2M475.5 779v2M476.5 781v3M477.5 784v2M478.5 786v2M479.5 788v3M480.5 791v2M481.5 793v2M482.5 795v3M483.5 798v2M484.5 800v2M485.5 802v1M485.5 800v4M486.5 794v6M487.5 787v7M488.5 781v6M489.5 775v6M490.5 768v7M491.5 762v6M492.5 755v7M493.5 749v6M494.5 743v6M495.5 736v7M496.5 730v6M497.5 723v7M498.5 717v6M499.5 711v6M500.5 704v7M501.5 698v6M502.5 691v7M503.5 685v6M504.5 679v6M505.5 676v3M505.5 674v2M506.5 672v2M507.5 670v2M508.5 668v2M509.5 666v2M510.5 664v2M511.5 662v2M512.5 660v2M513.5 658v2M514.5 656v2M515.5 653v3M516.5 651v2M517.5 649v2M518.5 647v2M519.5 645v2M520.5 643v2M521.5 641v2M522.5 639v2M523.5 637v2M524.5 635v2M525.5 633v2M526.5 632v1M526 631.5h4M530 632.5h7M537 633.5h7M544 634.5h3M547.5 634v1M548.5 633v1M549.5 632v1M550.5 631v1M551.5 630v1M552.5 629v1M553.5 628v1M554.5 627v1M555.5 626v1M556.5 625v1M557.5 623v2M558.5 622v1M559.5 621v1M560.5 620v1M561.5 619v1M562.5 618v1M563.5 617v1M564.5 616v1M565.5 615v1M566.5 614v1M567 613.5h2M569 612.5h2M571 611.5h2M573 610.5h2M575 609.5h2M577 608.5h2M579 607.5h2M581 606.5h2M583 605.5h2M585 604.5h2M587 603.5h1M588 603.5h1M589 604.5h1M590 605.5h1M591 606.5h1M592 607.5h1M593 608.5h2M595 609.5h1M596 610.5h1M597 611.5h1M598 612.5h1M599 613.5h1M600 614.5h1M601 615.5h1M602 616.5h1M603 617.5h2M605 618.5h1M606 619.5h1M607 620.5h1M608 621.5h1M609 622.5h2M611 623.5h4M615 624.5h3M618 625.5h3M621 626.5h4M625 627.5h3M628 628.5h1M629 628.5h3M632 629.5h5M637 630.5h6M643 631.5h5M648 632.5h2M650.5 632v1M651.5 633v2M652.5 635v1M653.5 636v2M654.5 638v2M655.5 640v1M656.5 641v2M657.5 643v1M658.5 644v2M659.5 646v1M660.5 647v2M661.5 649v2M662.5 651v1M663.5 652v2M664.5 654v1M665.5 655v2M666.5 657v1M667.5 658v2M668.5 660v2M669.5 662v1M670.5 663v2M671 665.5h1M672 666.5h1M673 667.5h1M674 668.5h1M675 669.5h1M676 670.5h1M677 671.5h1M678 672.5h1M679 673.5h1M680 674.5h1M681 675.5h1M682 676.5h1M683 677.5h1M684 678.5h1M685 679.5h1M686 680.5h1M687 681.5h1M688 682.5h1M689 683.5h1M690 684.5h1M691.5 685v1M692.5 683v2M693.5 682v1M694.5 680v2M695.5 679v1M696.5 677v2M697.5 676v1M698.5 674v2M699.5 673v1M700.5 671v2M701.5 669v2M702.5 668v1M703.5 666v2M704.5 665v1M705.5 663v2M706.5 662v1M707.5 660v2M708.5 659v1M709.5 657v2M710.5 656v1M711.5 654v2M712 653.5h1M713 654.5h2M715 655.5h2M717 656.5h1M718 657.5h2M720 658.5h1M721 659.5h2M723 660.5h2M725 661.5h1M726 662.5h2M728 663.5h1M729 664.5h2M731 665.5h2M733 666.5h1M734 667.5h1M735 668.5h1M736 669.5h1M737 670.5h1M738 671.5h1M739 672.5h1M740 673.5h1M741 674.5h1M742 675.5h2M744 676.5h1M745 677.5h1M746 678.5h1M747 679.5h1M748 680.5h1M749 681.5h1M750 682.5h1M751 683.5h1M752 684.5h1M753.5 685v2M754.5 687v4M755.5 691v3M756.5 694v4M757.5 698v4M758.5 702v3M759.5 705v4M760.5 709v3M761.5 712v4M762.5 716v3M763.5 719v4M764.5 723v4M765.5 727v3M766.5 730v4M767.5 734v3M768.5 737v4M769.5 741v3M770.5 744v4M771.5 748v4M772.5 752v3M773.5 755v4M774.5 759v1M774.5 760v2M775.5 762v3M776.5 765v2M777.5 767v3M778.5 770v3M779.5 773v2M780.5 775v3M781.5 778v3M782.5 781v2M783.5 783v3M784.5 786v3M785.5 789v2M786.5 791v3M787.5 794v3M788.5 797v2M789.5 799v3M790.5 802v3M791.5 805v2M792.5 807v3M793.5 810v3M794.5 813v2M795.5 815v1M795.5 816v2M796.5 818v3M797.5 821v3M798.5 824v2M799.5 826v3M800.5 829v3M801.5 832v3M802.5 835v3M803.5 838v3M804.5 841v3M805.5 844v2M806.5 846v3M807.5 849v3M808.5 852v3M809.5 855v3M810.5 858v3M811.5 861v3M812.5 864v2M813.5 866v3M814.5 869v3M815.5 872v1M815 873.5h6M821 874.5h10M831 875.5h5M836 875.5h11M847 874.5h10M857 874.5h2M859 875.5h3M862 876.5h3M865 877.5h3M868 878.5h2M870 879.5h3M873 880.5h3M876 881.5h1M877 881.5h1M878 880.5h2M880 879.5h2M882 878.5h2M884 877.5h2M886 876.5h2M888 875.5h2M890 874.5h2M892 873.5h2M894 872.5h2M896 871.5h2M898.5 870v1M899.5 868v2M900.5 866v2M901.5 864v2M902.5 862v2M903.5 860v2M904.5 858v2M905.5 856v2M906.5 854v2M907.5 852v2M908.5 850v2M909.5 849v1M910.5 847v2M911.5 845v2M912.5 843v2M913.5 841v2M914.5 839v2M915.5 837v2M916.5 835v2M917.5 833v2M918.5 831v2M919 830.5h1M920 829.5h2M922 828.5h1M923 827.5h2M925 826.5h1M926 825.5h2M928 824.5h2M930 823.5h1M931 822.5h2M933 821.5h1M934 820.5h2M936 819.5h1M937 818.5h2M939 817.5h2M941 818.5h3M944 819.5h3M947 820.5h3M950 821.5h3M953 822.5h3M956 823.5h3M959 824.5h1M960.5 823v2M961.5 820v3M962.5 817v3M963.5 814v3M964.5 811v3M965.5 808v3M966.5 805v3M967.5 802v3M968.5 799v3M969.5 796v3M970.5 793v3M971.5 791v2M972.5 788v3M973.5 785v3M974.5 782v3M975.5 779v3M976.5 776v3M977.5 773v3M978.5 770v3M979.5 767v3M980.5 764v3M981.5 763v1M981.5 760v3M982.5 756v4M983.5 752v4M984.5 748v4M985.5 744v4M986.5 739v5M987.5 735v4M988.5 731v4M989.5 727v4M990.5 723v4M991.5 718v5M992.5 714v4M993.5 710v4M994.5 706v4M995.5 702v4M996.5 697v5M997.5 693v4M998.5 689v4M999.5 685v4M1000.5 681v4M1001.5 679v2M1001.5 677v2M1002.5 675v2M1003.5 673v2M1004.5 671v2M1005.5 669v2M1006.5 667v2M1007.5 665v2M1008.5 663v2M1009.5 661v2M1010.5 659v2M1011.5 657v2M1012.5 655v2M1013.5 653v2M1014.5 651v2M1015.5 649v2M1016.5 647v2M1017.5 645v2M1018.5 643v2M1019.5 641v2M1020.5 639v2M1021.5 637v2M1022.5 636v1M1022.5 635v1M1023.5 636v1M1024.5 637v1M1025.5 638v1M1026.5 639v1M1027.5 640v1M1028.5 641v1M1029.5 642v1M1030.5 643v1M1031.5 644v1M1032.5 645v2M1033.5 647v1M1034.5 648v1M1035.5 649v1M1036.5 650v1M1037.5 651v1M1038.5 652v1M1039.5 653v1M1040.5 654v1M1041.5 655v1M1042.5 656v1M1043.5 657v1M1044.5 658v1M1045.5 659v2M1046.5 661v1M1047.5 662v1M1048.5 663v1M1049.5 664v1M1050.5 665v2M1051.5 667v1M1052.5 668v1M1053.5 669v1M1054.5 670v1M1055.5 671v2M1056.5 673v1M1057.5 674v1M1058.5 675v1M1059.5 676v1M1060.5 677v2M1061.5 679v1M1062.5 680v1M1063.5 681v1M1064.5 679v2M1065.5 677v2M1066.5 676v1M1067.5 674v2M1068.5 673v1M1069.5 671v2M1070.5 669v2M1071.5 668v1M1072.5 666v2M1073.5 664v2M1074.5 663v1M1075.5 661v2M1076.5 660v1M1077.5 658v2M1078.5 656v2M1079.5 655v1M1080.5 653v2M1081.5 652v1M1082.5 650v2M1083.5 648v2M1084.5 647v1M1085.5 646v1M1086.5 644v2M1087.5 643v1M1088.5 642v1M1089.5 641v1M1090.5 639v2M1091.5 638v1M1092.5 637v1M1093.5 636v1M1094.5 634v2M1095.5 633v1M1096.5 632v1M1097.5 631v1M1098.5 630v1M1099.5 628v2M1100.5 627v1M1101.5 626v1M1102.5 625v1M1103.5 623v2M1104.5 622v1M1105 621.5h1M1106 620.5h1M1107 619.5h2M1109 618.5h1M1110 617.5h1M1111 616.5h1M1112 615.5h2M1114 614.5h1M1115 613.5h1M1116 612.5h1M1117 611.5h2M1119 610.5h1M1120 609.5h1M1121 608.5h1M1122 607.5h2M1124 606.5h1M1125 605.5h1M1126 604.5h2M1128 603.5h2M1130 602.5h2M1132 601.5h2M1134 600.5h2M1136 599.5h2M1138 598.5h2M1140 597.5h2M1142 596.5h2M1144 595.5h2M1146 594.5h2M1148 595.5h3M1151 596.5h3M1154 597.5h3M1157 598.5h3M1160 599.5h3M1163 600.5h3M1166 601.5h1M1167 601.5h1M1168 602.5h1M1169 603.5h1M1170 604.5h1M1171 605.5h1M1172 606.5h1M1173 607.5h1M1174 608.5h1M1175 609.5h1M1176 610.5h2M1178 611.5h1M1179 612.5h1M1180 613.5h1M1181 614.5h1M1182 615.5h1M1183 616.5h1M1184 617.5h1M1185 618.5h1M1186 619.5h1M1187 620.5h1M1188 619.5h1M1189 618.5h2M1191 617.5h1M1192 616.5h1M1193 615.5h1M1194 614.5h2M1196 613.5h1M1197 612.5h1M1198 611.5h1M1199 610.5h1M1200 609.5h2M1202 608.5h1M1203 607.5h1M1204 606.5h1M1205 605.5h2M1207 604.5h1M1208.5 603v1M1209.5 604v2M1210.5 606v2M1211.5 608v2M1212.5 610v2M1213.5 612v1M1214.5 613v2M1215.5 615v2M1216.5 617v2M1217.5 619v2M1218.5 621v2M1219.5 623v1M1220.5 624v2M1221.5 626v2M1222.5 628v2M1223.5 630v2M1224.5 632v1M1225.5 633v2M1226.5 635v2M1227.5 637v2M1228.5 639v2M1229 641.5h3M1232 640.5h5M1237 639.5h6M1243 638.5h5M1248 637.5h2M1250.5 637v1M1251.5 638v2M1252.5 640v1M1253.5 641v1M1254.5 642v2M1255.5 644v1M1256.5 645v1M1257.5 646v2M1258.5 648v1M1259.5 649v1M1260.5 650v2M1261.5 652v1M1262.5 653v1M1263.5 654v2M1264.5 656v1M1265.5 657v1M1266.5 658v2M1267.5 660v1M1268.5 661v1M1269.5 662v2M1270 664.5h1M1271 663.5h2M1273 662.5h1M1274 661.5h2M1276 660.5h1M1277 659.5h2M1279 658.5h1M1280 657.5h2M1282 656.5h1M1283 655.5h2M1285 654.5h1M1286 653.5h2M1288 652.5h1M1289 651.5h2M1291 650.5h1M1292 651.5h2M1294 652.5h2M1296 653.5h2M1298 654.5h1M1299 655.5h2M1301 656.5h2M1303 657.5h2M1305 658.5h1M1306 659.5h2M1308 660.5h2M1310 661.5h2M1312.5 662v1M1313.5 663v2M1314.5 665v1M1315.5 666v2M1316.5 668v1M1317.5 669v2M1318.5 671v1M1319.5 672v2M1320.5 674v1M1321.5 675v2M1322.5 677v1M1323.5 678v2M1324.5 680v1M1325.5 681v2M1326.5 683v1M1327.5 684v2M1328.5 686v1M1329.5 687v2M1330.5 689v1M1331.5 690v2M1332.5 692v1M1333.5 693v2M1334.5 695v2M1335.5 697v2M1336.5 699v2M1337.5 701v2M1338.5 703v2M1339.5 705v2M1340.5 707v2M1341.5 709v2M1342.5 711v2M1343.5 713v1M1344.5 714v2M1345.5 716v2M1346.5 718v2M1347.5 720v2M1348.5 722v2M1349.5 724v2M1350.5 726v2M1351.5 728v2M1352.5 730v2M1353.5 732v2M1354.5 734v2M1355.5 736v2M1356.5 738v3M1357.5 741v2M1358.5 743v2M1359.5 745v2M1360.5 747v3M1361.5 750v2M1362.5 752v2M1363.5 754v3M1364.5 757v2M1365.5 759v2M1366.5 761v2M1367.5 763v3M1368.5 766v2M1369.5 768v2M1370.5 770v3M1371.5 773v2M1372.5 775v2M1373.5 777v2M1374.5 779v1M1374.5 780v2M1375.5 782v2M1376.5 784v3M1377.5 787v2M1378.5 789v3M1379.5 792v3M1380.5 795v2M1381.5 797v3M1382.5 800v2M1383.5 802v3M1384.5 805v2M1385.5 807v3M1386.5 810v2M1387.5 812v3M1388.5 815v2M1389.5 817v3M1390.5 820v3M1391.5 823v2M1392.5 825v3M1393.5 828v2M1394.5 830v1M1394.5 831v1M1395.5 829v2M1396.5 827v2M1397.5 826v1M1398.5 824v2M1399.5 823v1M1400.5 821v2M1401.5 819v2M1402.5 818v1M1403.5 816v2M1404.5 814v2M1405.5 813v1M1406.5 811v2M1407.5 810v1M1408.5 808v2M1409.5 806v2M1410.5 805v1M1411.5 803v2M1412.5 802v1M1413.5 800v2M1414.5 798v2M1415.5 796v2M1416.5 792v4M1417.5 788v4M1418.5 785v3M1419.5 781v4M1420.5 777v4M1421.5 774v3M1422.5 770v4M1423.5 766v4M1424.5 763v3M1425.5 759v4M1426.5 755v4M1427.5 752v3M1428.5 748v4M1429.5 744v4M1430.5 741v3M1431.5 737v4M1432.5 733v4M1433.5 730v3M1434.5 726v4M1435.5 722v4M1436.5 721v1M1436.5 719v2M1437.5 715v4M1438.5 711v4M1439.5 707v4M1440.5 703v4M1441.5 699v4M1442.5 695v4M1443.5 692v3M1444.5 688v4M1445.5 684v4M1446.5 680v4M1447.5 676v4M1448.5 672v4M1449.5 669v3M1450.5 665v4M1451.5 661v4M1452.5 657v4M1453.5 653v4M1454.5 649v4M1455.5 645v4M1456.5 644v1M1456.5 642v2M1457.5 640v2M1458.5 638v2M1459.5 636v2M1460.5 634v2M1461.5 632v2M1462.5 630v2M1463.5 628v2M1464.5 626v2M1465.5 624v2M1466.5 622v2M1467.5 620v2M1468.5 618v2M1469.5 616v2M1470.5 614v2M1471.5 612v2M1472.5 610v2M1473.5 608v2M1474.5 606v2M1475.5 604v2M1476.5 602v2M1477 601.5h6M1483 602.5h10M1493 603.5h5M1498 603.5h1M1499 604.5h2M1501 605.5h2M1503 606.5h1M1504 607.5h2M1506 608.5h2M1508 609.5h1M1509 610.5h2M1511 611.5h2M1513 612.5h1M1514 613.5h2M1516 614.5h2M1518.5 615v1M1519.5 616v2M1520.5 618v2M1521.5 620v2M1522.5 622v2M1523.5 624v2M1524.5 626v2M1525.5 628v2M1526.5 630v2M1527.5 632v2M1528.5 634v2M1529.5 636v1M1530.5 637v2M1531.5 639v2M1532.5 641v2M1533.5 643v2M1534.5 645v2M1535.5 647v2M1536.5 649v2M1537.5 651v2M1538.5 653v2M1539.5 655v1M1540.5 656v1M1541.5 657v1M1542.5 658v2M1543.5 660v1M1544.5 661v1M1545.5 662v1M1546.5 663v1M1547.5 664v2M1548.5 666v1M1549.5 667v1M1550.5 668v1M1551.5 669v1M1552.5 670v2M1553.5 672v1M1554.5 673v1M1555.5 674v1M1556.5 675v1M1557.5 676v2M1558.5 678v1M1559.5 679v1M1560.5 680v1" fill="none" stroke="#ff00ff" stroke-width="1" shape-rendering="crispEdges"/>
<g shape-rendering="crispEdges">
<rect x="9" y="858" width="1552" height="1.4" fill="#00ff00"/>
<rect x="180" y="858" width="31" height="1.4" fill="#ff0000"/>
<rect x="180" y="857" width="31" height="1" fill="#00ff00"/>
<rect x="190" y="856" width="11" height="1" fill="#00ff00"/>
<rect x="190" y="857" width="11" height="1" fill="#ff0000"/>
<rect x="780" y="858" width="31" height="1.4" fill="#ff0000"/>
<rect x="780" y="857" width="31" height="1" fill="#00ff00"/>
<rect x="790" y="856" width="11" height="1" fill="#00ff00"/>
<rect x="790" y="857" width="11" height="1" fill="#ff0000"/>
<rect x="428" y="857" width="31" height="1" fill="#ff0000"/>
<rect x="438" y="856" width="11" height="1" fill="#ff0000"/>
<rect x="438" y="857" width="11" height="1" fill="#c05000"/>
<rect x="1069" y="857" width="31" height="1" fill="#ff0000"/>
<rect x="1079" y="856" width="11" height="1" fill="#ff0000"/>
<rect x="1079" y="857" width="11" height="1" fill="#c05000"/>
</g>
<path d="M194.1 713.3h2v6h3.7l-4.7 6l-4.7-6h3.7z" fill="#00f000"/>
<text x="195" y="703" font-size="11.5" fill="#00f000">空</text>
<path d="M794.1 713.3h2v6h3.7l-4.7 6l-4.7-6h3.7z" fill="#00f000"/>
<text x="795" y="703" font-size="11.5" fill="#00f000">空</text>
<path d="M443.1 787l5 6h-4v6h-2v-6h-4z" fill="#ff0000"/>
<text x="443.5" y="825.5" font-size="11.5" fill="#ff0000">多</text>
<path d="M1084.1 787l5 6h-4v6h-2v-6h-4z" fill="#ff0000"/>
<text x="1084.500" y="825.5" font-size="11.5" fill="#ff0000">多</text>
<text x="4.2" y="19.6" font-size="12" fill="#f0f0f0" textLength="47" lengthAdjust="spacingAndGlyphs">华电国际</text>
<text x="54.5" y="19" font-size="12" fill="#f0f0f0">(</text>
<text x="60.5" y="19.6" font-size="12" fill="#f0f0f0" textLength="22" lengthAdjust="spacingAndGlyphs">日线</text>
<text x="82.3" y="19" font-size="12" fill="#f0f0f0">.</text>
<text x="84.8" y="19.6" font-size="12" fill="#f0f0f0" textLength="34.8" lengthAdjust="spacingAndGlyphs">前复权</text>
<text x="119.6" y="19" font-size="12" fill="#f0f0f0">)</text>
<circle cx="137" cy="15" r="5.8" fill="#6e6e6e"/><path d="M133.8 13.7l3.2 3.2l3.2-3.2" stroke="#101010" stroke-width="1.3" fill="none"/>
<text x="147" y="19.6" font-size="12" fill="#f0f0f0" textLength="71.5" lengthAdjust="spacingAndGlyphs">布林线买卖点</text>
<text x="225" y="19" font-size="12" fill="#f0f0f0" textLength="60" lengthAdjust="spacingAndGlyphs">BOLL: 5.90</text>
<text x="290.8" y="19" font-size="12" fill="#ffff00" textLength="45.7" lengthAdjust="spacingAndGlyphs">UB: 7.01</text>
<text x="344" y="19" font-size="12" fill="#ff00ff" textLength="44" lengthAdjust="spacingAndGlyphs">LB: 4.80</text>
<text x="443.8" y="19.6" font-size="12" fill="#ff0000" textLength="35" lengthAdjust="spacingAndGlyphs">重心红</text>
<text x="479.5" y="19" font-size="12" fill="#ff0000" textLength="30.5" lengthAdjust="spacingAndGlyphs">: 5.47</text>
<text x="35" y="40.6" font-size="12" fill="#ff0000" textLength="129.5" lengthAdjust="spacingAndGlyphs">☆财富池技术交流专用☆</text>
<text x="1504.5" y="557" font-size="12" fill="#ff0000" textLength="82" lengthAdjust="spacingAndGlyphs">☆财富池版权☆</text>
<path d="M1606.5 10.2l5.3 5.3l-5.3 5.3l-5.3-5.3z" stroke="#8a8a8a" stroke-width="1" fill="none"/>
<rect x="1619.5" y="10.5" width="11" height="10" rx="2" stroke="#8a8a8a" stroke-width="1.2" fill="none"/><rect x="1626" y="12.3" width="3" height="6.4" fill="#8a8a8a"/>
<circle cx="9" cy="581" r="5.7" fill="#6e6e6e"/><path d="M5.8 579.7l3.2 3.2l3.2-3.2" stroke="#101010" stroke-width="1.3" fill="none"/>
<text x="19.5" y="585.4" font-size="12" fill="#f0f0f0" textLength="71.2" lengthAdjust="spacingAndGlyphs">量价为王指标</text>
<text x="96.5" y="585" font-size="12" fill="#f0f0f0">:</text>
<text x="103.7" y="585" font-size="12" fill="#f0f0f0" textLength="23" lengthAdjust="spacingAndGlyphs">5.00</text>
<text x="132.5" y="585" font-size="12" fill="#ff00ff">:</text>
<text x="139.7" y="585" font-size="12" fill="#ff00ff" textLength="29.8" lengthAdjust="spacingAndGlyphs">20.00</text>
<text x="176" y="585" font-size="12" fill="#00e000">:</text>
<text x="182.8" y="585" font-size="12" fill="#00e000" textLength="30" lengthAdjust="spacingAndGlyphs">50.00</text>
<text x="219.3" y="585" font-size="12" fill="#f0f0f0">:</text>
<text x="225.8" y="585" font-size="12" fill="#f0f0f0" textLength="29.7" lengthAdjust="spacingAndGlyphs">80.00</text>
<text x="261.3" y="585" font-size="12" fill="#f0f0f0" textLength="45.5" lengthAdjust="spacingAndGlyphs">K: 75.38</text>
<text x="312.7" y="585" font-size="12" fill="#ffff00" textLength="45.8" lengthAdjust="spacingAndGlyphs">D: 76.85</text>
<text x="364.3" y="585" font-size="12" fill="#ff00ff" textLength="42" lengthAdjust="spacingAndGlyphs">J: 72.44</text>
<text x="412.5" y="585.4" font-size="12" fill="#f0f0f0" textLength="36" lengthAdjust="spacingAndGlyphs">做多线</text>
<text x="449" y="585" font-size="12" fill="#f0f0f0" textLength="36.7" lengthAdjust="spacingAndGlyphs">: 87.44</text>
<text x="491.2" y="585.4" font-size="12" fill="#00e5e5" textLength="36" lengthAdjust="spacingAndGlyphs">做空线</text>
<text x="527.8" y="585" font-size="12" fill="#00e5e5" textLength="36.7" lengthAdjust="spacingAndGlyphs">: 83.40</text>
<text x="570.6" y="585.4" font-size="12" fill="#ff0000" textLength="23.4" lengthAdjust="spacingAndGlyphs">做多</text>
<text x="594.5" y="585" font-size="12" fill="#ff0000" textLength="30.5" lengthAdjust="spacingAndGlyphs">: 0.00</text>
<text x="635.2" y="585.4" font-size="12" fill="#00e000" textLength="23.4" lengthAdjust="spacingAndGlyphs">做空</text>
<text x="659.3" y="585" font-size="12" fill="#00e000" textLength="30.5" lengthAdjust="spacingAndGlyphs">: 0.00</text>
<path d="M875.5 559.8l3 3h-6z" fill="#ff0000"/>
<text x="872.6" y="571.3" font-size="9.5" fill="#ff0000" textLength="6.4" lengthAdjust="spacingAndGlyphs" font-weight="bold">S</text>
<rect x="1325" y="558" width="13" height="13" fill="#10407c"/>
<text x="1326" y="568.8" font-size="11.5" fill="#fff">财</text>
<rect x="1470" y="558" width="13" height="13" fill="#8a4a08"/>
<text x="1470.8" y="568.8" font-size="11.5" fill="#fff">榜</text>
<text x="3" y="883" font-size="12" fill="#6c6c6c" textLength="71" lengthAdjust="spacingAndGlyphs">用到未来数据</text>
<text x="10" y="900.4" font-size="12" fill="#c40000" textLength="27" lengthAdjust="spacingAndGlyphs">2022</text>
<text x="37.5" y="900.8" font-size="12" fill="#c40000">年</text>
<text x="52" y="900.4" font-size="12" fill="#c40000">6</text>
<text x="920.4" y="900.4" font-size="12" fill="#c40000">8</text>
<text x="1395.4" y="900.4" font-size="12" fill="#c40000">9</text>
<g shape-rendering="crispEdges">
<rect x="410" y="888" width="84" height="15" fill="#8c0000"/>
<rect x="411" y="888" width="82" height="15" fill="#000080"/>
</g>
<text x="412" y="900.4" font-size="12" fill="#fff" textLength="69" lengthAdjust="spacingAndGlyphs">2022/06/27/</text>
<text x="481" y="900.6" font-size="12" fill="#fff">一</text>
<text x="1649.6" y="900.6" font-size="12" fill="#f0f0f0" textLength="22" lengthAdjust="spacingAndGlyphs">日线</text>
</svg>
</body></html>
